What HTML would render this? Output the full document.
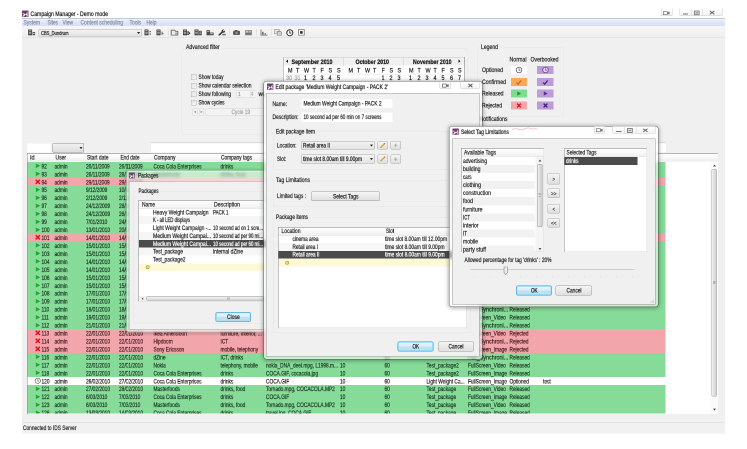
<!DOCTYPE html>
<html><head><meta charset="utf-8"><title>Campaign Manager</title>
<style>
html,body{margin:0;padding:0;background:#fff;overflow:hidden;}
body{width:747px;height:449px;position:relative;overflow:hidden;font-family:"Liberation Sans",sans-serif;}
div,span,svg{position:absolute;}
span{white-space:nowrap;transform-origin:0 50%;display:block;-webkit-text-stroke:0.22px;}
</style></head><body>
<div id="root" style="left:0;top:0;width:1494px;height:898px;transform:scale(.5);transform-origin:0 0;will-change:transform"><div style="left:0;top:0;width:747px;height:449px;zoom:2">
<div style="left:22.00px;top:8.00px;width:703.00px;height:425.50px;background:#f0f0f0;"></div>
<div style="left:22.00px;top:8.00px;width:703.00px;height:10.70px;background:#ffffff;"></div>
<svg style="left:22.1px;top:10.7px" width="6.5" height="6.5" viewBox="0 0 14 14"><rect width="14" height="14" rx="1" fill="#6a4068"/><path d="M1 13 L5.5 6.5 L8 8.5 L12.5 1.5 L10.4 10.4 L7.6 8.8 L4 13Z" fill="#ffffff"/><path d="M8.4 13 L13 5.4 V13Z" fill="#dba0cc"/><rect x="1.2" y="5" width="3" height="3" fill="#e7a9d3"/></svg>
<span style="left:30.50px;top:10.05px;font-size:6.2px;line-height:8.31px;color:#1e1e1e;transform:scaleX(0.827);">Campaign Manager - Demo mode</span>
<div style="left:660.80px;top:8.60px;width:11.80px;height:7.40px;border:0.5px solid #cdcdcd;border-top:none;border-radius:0 0 1.5px 1.5px;background:linear-gradient(#ffffff,#f4f4f4);box-sizing:border-box;"></div>
<svg style="left:663.2px;top:10.8px" width="7" height="4.2" viewBox="0 0 18 10"><rect x="1" y="1" width="10" height="8" fill="none" stroke="#6a6a6a" stroke-width="1.6"/><path d="M12 3 L17 1 L17 9 L12 7Z" fill="#777"/></svg>
<div style="left:679.50px;top:8.60px;width:43.00px;height:7.40px;border:0.5px solid #cdcdcd;border-top:none;border-radius:0 0 1.5px 1.5px;background:linear-gradient(#ffffff,#f4f4f4);box-sizing:border-box;"></div>
<div style="left:691.60px;top:9.00px;width:0.50px;height:6.60px;background:#d0d0d0;"></div>
<div style="left:702.70px;top:9.00px;width:0.50px;height:6.60px;background:#d0d0d0;"></div>
<div style="left:683.20px;top:13.60px;width:5.00px;height:1.00px;background:#777;"></div>
<svg style="left:694px;top:10.6px" width="5.6" height="4.8" viewBox="0 0 12 10"><rect x="1" y="1" width="10" height="8" fill="none" stroke="#6a6a6a" stroke-width="1.7"/><rect x="3" y="3.6" width="6" height="2.8" fill="#8a8a8a"/></svg>
<svg style="left:709.2px;top:10.6px" width="6.2" height="4.2" viewBox="0 0 14 10"><path d="M1.5 1 L12.5 9 M12.5 1 L1.5 9" stroke="#5e5e5e" stroke-width="2.3"/></svg>
<div style="left:22.00px;top:18.10px;width:703.00px;height:0.60px;background:#9aa0ac;"></div>
<div style="left:22.00px;top:18.70px;width:703.00px;height:7.80px;background:linear-gradient(#f1f4fb 0,#e9eef9 25%,#dfe6f6 45%,#dbe3f5 80%,#d4ddf2 100%);"></div>
<span style="left:23.60px;top:18.28px;font-size:6px;line-height:8.04px;color:#858ea8;transform:scaleX(0.825);">System</span>
<span style="left:47.40px;top:18.28px;font-size:6px;line-height:8.04px;color:#858ea8;transform:scaleX(0.787);">Sites</span>
<span style="left:62.70px;top:18.28px;font-size:6px;line-height:8.04px;color:#858ea8;transform:scaleX(0.814);">View</span>
<span style="left:80.50px;top:18.28px;font-size:6px;line-height:8.04px;color:#858ea8;transform:scaleX(0.827);">Content scheduling</span>
<span style="left:129.70px;top:18.28px;font-size:6px;line-height:8.04px;color:#858ea8;transform:scaleX(0.821);">Tools</span>
<span style="left:146.40px;top:18.28px;font-size:6px;line-height:8.04px;color:#858ea8;transform:scaleX(0.810);">Help</span>
<div style="left:22.00px;top:26.20px;width:703.00px;height:11.30px;background:linear-gradient(#f7f7f7,#efefef);"></div>
<div style="left:22.00px;top:37.30px;width:703.00px;height:0.60px;background:#d9d9d9;"></div>
<svg style="left:27.4px;top:28.9px" width="8.2" height="6.8" viewBox="0 0 16 13.6"><rect x="1" y="1" width="8" height="11.6" fill="#3f3f3f"/><rect x="2.4" y="2.8" width="5.2" height="1.5" fill="#cfcfcf"/><rect x="2.4" y="5.8" width="5.2" height="1.5" fill="#cfcfcf"/><rect x="2.4" y="8.8" width="5.2" height="1.5" fill="#bdbdbd"/><rect x="10" y="6" width="5" height="6.6" fill="#5a5a5a"/><rect x="11" y="8" width="3" height="1.6" fill="#e0e0e0"/></svg>
<div style="left:38.60px;top:29.00px;width:103.20px;height:7.60px;background:linear-gradient(#f4f4f4,#e4e4e4);border:0.5px solid #b0b0b0;border-radius:1px;box-sizing:border-box;"></div>
<span style="left:40.80px;top:29.11px;font-size:5.8px;line-height:7.77px;color:#222;transform:scaleX(0.705);">CBS_Dundrum</span>
<svg style="left:137.2px;top:32px" width="3.2" height="2" viewBox="0 0 8 5"><path d="M0 0 H8 L4 5Z" fill="#222"/></svg>
<svg style="left:144px;top:28.9px" width="8" height="6.8" viewBox="0 0 16 13.6"><rect x="1" y="1" width="8" height="11.6" fill="#3f3f3f"/><rect x="2.4" y="2.8" width="5.2" height="1.5" fill="#cfcfcf"/><rect x="2.4" y="5.8" width="5.2" height="1.5" fill="#cfcfcf"/><rect x="2.4" y="8.8" width="5.2" height="1.5" fill="#bdbdbd"/><rect x="11" y="4" width="2.4" height="2.4" fill="#444"/><rect x="11" y="9" width="2.4" height="2.4" fill="#444"/></svg>
<svg style="left:156px;top:28.9px" width="8" height="6.8" viewBox="0 0 16 13.6"><rect x="1" y="1" width="8" height="11.6" fill="#3f3f3f"/><rect x="2.4" y="2.8" width="5.2" height="1.5" fill="#cfcfcf"/><rect x="2.4" y="5.8" width="5.2" height="1.5" fill="#cfcfcf"/><rect x="2.4" y="8.8" width="5.2" height="1.5" fill="#bdbdbd"/><rect x="9.6" y="5" width="4" height="7" fill="#b8b8b8"/><path d="M12 6.5 L16 9 L12 11.5Z" fill="#777"/></svg>
<div style="left:168.30px;top:28.50px;width:0.50px;height:7.00px;background:#d6d6d6;"></div>
<svg style="left:170.6px;top:28.9px" width="8" height="6.8" viewBox="0 0 16 13.6"><path d="M1.4 2.4 H8.5 L10 4.6 H14.6 V12.4 H1.4Z" fill="#ededed" stroke="#6a6a6a" stroke-width="1.9"/><rect x="9" y="7" width="5" height="4.5" fill="#a9a9a9"/></svg>
<svg style="left:182.4px;top:28.9px" width="8" height="6.8" viewBox="0 0 16 13.6"><rect x="1" y="1" width="8" height="11.6" fill="#3f3f3f"/><rect x="2.4" y="2.8" width="5.2" height="1.5" fill="#cfcfcf"/><rect x="2.4" y="5.8" width="5.2" height="1.5" fill="#cfcfcf"/><rect x="2.4" y="8.8" width="5.2" height="1.5" fill="#bdbdbd"/><path d="M9.5 4.5 H12 L16 8.2 L12 12 H9.5Z" fill="#3f3f3f"/><rect x="10" y="7.4" width="3" height="1.5" fill="#ccc"/></svg>
<svg style="left:194px;top:28.9px" width="8" height="6.8" viewBox="0 0 16 13.6"><rect x="1" y="1" width="8" height="11.6" fill="#3f3f3f"/><rect x="2.4" y="2.8" width="5.2" height="1.5" fill="#cfcfcf"/><rect x="2.4" y="5.8" width="5.2" height="1.5" fill="#cfcfcf"/><rect x="2.4" y="8.8" width="5.2" height="1.5" fill="#bdbdbd"/><rect x="9.6" y="3.6" width="6" height="9" fill="#4c4c4c"/><rect x="10.8" y="5.4" width="3.6" height="1.4" fill="#cfcfcf"/><rect x="10.8" y="8.4" width="3.6" height="1.4" fill="#bdbdbd"/></svg>
<svg style="left:206px;top:28.9px" width="8" height="6.8" viewBox="0 0 16 13.6"><rect x="1" y="2.4" width="7" height="10.2" fill="#4a4a4a"/><rect x="2.2" y="4.2" width="4.6" height="1.5" fill="#cfcfcf"/><rect x="7" y="7" width="8.4" height="5.6" fill="#5a5a5a"/><rect x="8.4" y="8.6" width="5.6" height="1.4" fill="#c9c9c9"/></svg>
<svg style="left:217.8px;top:28.9px" width="8" height="6.8" viewBox="0 0 16 13.6"><path d="M2.4 12 L10 4.6" stroke="#3a3a3a" stroke-width="3.2" stroke-linecap="round"/><circle cx="10.6" cy="4.2" r="3.3" fill="#3a3a3a"/><path d="M10.6 4.2 L14.5 0.5" stroke="#efefef" stroke-width="2"/><rect x="8.6" y="9.6" width="6.8" height="3.2" fill="#707070"/></svg>
<div style="left:229.00px;top:28.50px;width:0.50px;height:7.00px;background:#d6d6d6;"></div>
<svg style="left:232.5px;top:28.9px" width="8" height="6.8" viewBox="0 0 16 13.6"><rect x="1" y="3.6" width="14" height="8.4" rx="2.2" fill="#5a5a5a"/><circle cx="8" cy="7.8" r="2.6" fill="#8d8d8d"/><rect x="4.4" y="2" width="5.4" height="2.2" fill="#5a5a5a"/></svg>
<svg style="left:244.5px;top:28.9px" width="8" height="6.8" viewBox="0 0 16 13.6"><rect x="1" y="2" width="14" height="10.6" fill="#8f8f8f"/><rect x="2.4" y="3.4" width="4.6" height="3.4" fill="#c9c9c9"/><rect x="8.4" y="3.4" width="5" height="3.4" fill="#b5b5b5"/><rect x="2.4" y="8.2" width="11" height="3" fill="#6f6f6f"/></svg>
<div style="left:255.80px;top:28.50px;width:0.50px;height:7.00px;background:#d6d6d6;"></div>
<svg style="left:260px;top:28.9px" width="8" height="6.8" viewBox="0 0 16 13.6"><path d="M2 1 V12.4 H15" fill="none" stroke="#6a6a6a" stroke-width="1.6"/><rect x="4" y="5.6" width="3.2" height="5.8" fill="#6f6f6f"/><rect x="8.8" y="8" width="3.2" height="3.4" fill="#8f8f8f"/></svg>
<div style="left:271.00px;top:28.50px;width:0.50px;height:7.00px;background:#d6d6d6;"></div>
<svg style="left:274px;top:28.9px" width="8" height="6.8" viewBox="0 0 16 13.6"><rect x="1" y="1" width="9.6" height="8.4" fill="#e6e6e6" stroke="#999" stroke-width="1.3"/><path d="M6.4 5 H13.6 L15.2 8 V12.6 H6.4Z" fill="#d0d0d0" stroke="#858585" stroke-width="1.3"/></svg>
<svg style="left:286.2px;top:28.799999999999997px" width="7.6" height="7.6" viewBox="0 0 15 15"><circle cx="7.5" cy="7.5" r="6" fill="#fff" stroke="#333" stroke-width="2"/><path d="M7.5 3.8 V8 H10.8" fill="none" stroke="#333" stroke-width="1.7"/></svg>
<svg style="left:298px;top:28.799999999999997px" width="6.8" height="6.8" viewBox="0 0 13 13"><rect x="1" y="1" width="11" height="11" fill="#f4f4f4" stroke="#777" stroke-width="1.4"/><rect x="4" y="4" width="5" height="5" fill="#333"/></svg>
<div style="left:181.50px;top:48.50px;width:286.00px;height:86.00px;border:0.5px solid #e7e7e7;border-radius:2px;box-sizing:border-box;"></div>
<div style="left:184.50px;top:44.00px;width:37.00px;height:7.00px;background:#f0f0f0;"></div>
<span style="left:186.00px;top:42.98px;font-size:6px;line-height:8.04px;color:#2a2a2a;transform:scaleX(0.847);">Advanced filter</span>
<div style="left:191.10px;top:74.20px;width:5.60px;height:5.60px;background:linear-gradient(135deg,#e2e2e2,#f6f6f6);border:0.5px solid #b9b9b9;box-sizing:border-box;"></div>
<span style="left:198.30px;top:72.98px;font-size:6px;line-height:8.04px;color:#2a2a2a;transform:scaleX(0.797);">Show today</span>
<div style="left:191.10px;top:82.80px;width:5.60px;height:5.60px;background:linear-gradient(135deg,#e2e2e2,#f6f6f6);border:0.5px solid #b9b9b9;box-sizing:border-box;"></div>
<span style="left:198.30px;top:81.58px;font-size:6px;line-height:8.04px;color:#2a2a2a;transform:scaleX(0.815);">Show calendar selection</span>
<div style="left:191.10px;top:91.30px;width:5.60px;height:5.60px;background:linear-gradient(135deg,#e2e2e2,#f6f6f6);border:0.5px solid #b9b9b9;box-sizing:border-box;"></div>
<span style="left:198.30px;top:90.08px;font-size:6px;line-height:8.04px;color:#2a2a2a;transform:scaleX(0.812);">Show following</span>
<div style="left:191.10px;top:99.80px;width:5.60px;height:5.60px;background:linear-gradient(135deg,#e2e2e2,#f6f6f6);border:0.5px solid #b9b9b9;box-sizing:border-box;"></div>
<span style="left:198.30px;top:98.58px;font-size:6px;line-height:8.04px;color:#2a2a2a;transform:scaleX(0.780);">Show cycles</span>
<div style="left:236.00px;top:90.30px;width:19.00px;height:7.40px;background:#f4f4f4;border:0.5px solid #d6d6d6;box-sizing:border-box;"></div>
<span style="left:238.20px;top:90.21px;font-size:5.8px;line-height:7.77px;color:#9a9a9a;transform:scaleX(0.840);">1</span>
<div style="left:250.00px;top:91.00px;width:4.40px;height:6.00px;border-left:0.5px solid #d0d0d0;"></div>
<svg style="left:251px;top:91.7px" width="2.6" height="4.6" viewBox="0 0 6 10"><path d="M0 4 L3 0 L6 4Z M0 6 L3 10 L6 6Z" fill="#a8a8a8"/></svg>
<span style="left:258.60px;top:90.08px;font-size:6px;line-height:8.04px;color:#2a2a2a;transform:scaleX(0.882);">weeks</span>
<div style="left:192.60px;top:108.40px;width:5.20px;height:7.40px;background:#f3f3f3;border:0.5px solid #d6d6d6;box-sizing:border-box;border-radius:1px;"></div>
<div style="left:198.80px;top:108.40px;width:5.20px;height:7.40px;background:#f3f3f3;border:0.5px solid #d6d6d6;box-sizing:border-box;border-radius:1px;"></div>
<svg style="left:194px;top:110.7px" width="2" height="2.8" viewBox="0 0 4 6"><path d="M4 0 L0 3 L4 6Z" fill="#9a9a9a"/></svg>
<svg style="left:200.3px;top:110.7px" width="2" height="2.8" viewBox="0 0 4 6"><path d="M0 0 L4 3 L0 6Z" fill="#9a9a9a"/></svg>
<div style="left:205.40px;top:108.40px;width:72.00px;height:7.40px;background:#f3f3f3;border:0.5px solid #d6d6d6;box-sizing:border-box;border-radius:1px;"></div>
<span style="left:231.30px;top:108.18px;font-size:6px;line-height:8.04px;color:#a9a9a9;transform:scaleX(0.793);">Cycle 19</span>
<div style="left:283.50px;top:57.00px;width:181.50px;height:40.00px;background:#fff;"></div>
<div style="left:283.50px;top:57.00px;width:181.50px;height:8.60px;background:#f0f0f0;border-top:0.5px solid #c9c9c9;box-sizing:border-box;"></div>
<div style="left:283.50px;top:57.00px;width:0.50px;height:40.00px;background:#9d9d9d;"></div>
<div style="left:464.50px;top:57.00px;width:0.60px;height:40.00px;background:#6e6e6e;"></div>
<div style="left:343.60px;top:57.00px;width:0.50px;height:9.00px;background:#cfcfcf;"></div>
<div style="left:403.60px;top:57.00px;width:0.50px;height:9.00px;background:#cfcfcf;"></div>
<svg style="left:286.2px;top:59.6px" width="2" height="3.4" viewBox="0 0 4 7"><path d="M4 0 L0 3.5 L4 7Z" fill="#111"/></svg>
<svg style="left:458.6px;top:59.6px" width="2" height="3.4" viewBox="0 0 4 7"><path d="M0 0 L4 3.5 L0 7Z" fill="#111"/></svg>
<span style="left:291.50px;top:57.98px;font-size:6px;line-height:8.04px;color:#1c1c1c;font-weight:bold;transform:scaleX(0.891);">September 2010</span>
<span style="left:355.50px;top:57.98px;font-size:6px;line-height:8.04px;color:#1c1c1c;font-weight:bold;transform:scaleX(0.881);">October 2010</span>
<span style="left:413.20px;top:57.98px;font-size:6px;line-height:8.04px;color:#1c1c1c;font-weight:bold;transform:scaleX(0.868);">November 2010</span>
<span style="left:287.90px;top:66.58px;font-size:6px;line-height:8.04px;color:#222;transform:scaleX(0.900);">M</span>
<span style="left:296.05px;top:66.58px;font-size:6px;line-height:8.04px;color:#222;transform:scaleX(0.900);">T</span>
<span style="left:304.20px;top:66.58px;font-size:6px;line-height:8.04px;color:#222;transform:scaleX(0.900);">W</span>
<span style="left:312.35px;top:66.58px;font-size:6px;line-height:8.04px;color:#222;transform:scaleX(0.900);">T</span>
<span style="left:320.50px;top:66.58px;font-size:6px;line-height:8.04px;color:#222;transform:scaleX(0.900);">F</span>
<span style="left:328.65px;top:66.58px;font-size:6px;line-height:8.04px;color:#222;transform:scaleX(0.900);">S</span>
<span style="left:336.80px;top:66.58px;font-size:6px;line-height:8.04px;color:#222;transform:scaleX(0.900);">S</span>
<div style="left:286.10px;top:74.00px;width:54.00px;height:0.40px;background:#e2e2e2;"></div>
<span style="left:348.70px;top:66.58px;font-size:6px;line-height:8.04px;color:#222;transform:scaleX(0.900);">M</span>
<span style="left:356.85px;top:66.58px;font-size:6px;line-height:8.04px;color:#222;transform:scaleX(0.900);">T</span>
<span style="left:365.00px;top:66.58px;font-size:6px;line-height:8.04px;color:#222;transform:scaleX(0.900);">W</span>
<span style="left:373.15px;top:66.58px;font-size:6px;line-height:8.04px;color:#222;transform:scaleX(0.900);">T</span>
<span style="left:381.30px;top:66.58px;font-size:6px;line-height:8.04px;color:#222;transform:scaleX(0.900);">F</span>
<span style="left:389.45px;top:66.58px;font-size:6px;line-height:8.04px;color:#222;transform:scaleX(0.900);">S</span>
<span style="left:397.60px;top:66.58px;font-size:6px;line-height:8.04px;color:#222;transform:scaleX(0.900);">S</span>
<div style="left:346.90px;top:74.00px;width:54.00px;height:0.40px;background:#e2e2e2;"></div>
<span style="left:409.10px;top:66.58px;font-size:6px;line-height:8.04px;color:#222;transform:scaleX(0.900);">M</span>
<span style="left:417.25px;top:66.58px;font-size:6px;line-height:8.04px;color:#222;transform:scaleX(0.900);">T</span>
<span style="left:425.40px;top:66.58px;font-size:6px;line-height:8.04px;color:#222;transform:scaleX(0.900);">W</span>
<span style="left:433.55px;top:66.58px;font-size:6px;line-height:8.04px;color:#222;transform:scaleX(0.900);">T</span>
<span style="left:441.70px;top:66.58px;font-size:6px;line-height:8.04px;color:#222;transform:scaleX(0.900);">F</span>
<span style="left:449.85px;top:66.58px;font-size:6px;line-height:8.04px;color:#222;transform:scaleX(0.900);">S</span>
<span style="left:458.00px;top:66.58px;font-size:6px;line-height:8.04px;color:#222;transform:scaleX(0.900);">S</span>
<div style="left:407.30px;top:74.00px;width:54.00px;height:0.40px;background:#e2e2e2;"></div>
<span style="left:286.20px;top:73.98px;font-size:6px;line-height:8.04px;color:#aaa;transform:scaleX(0.900);">30</span>
<span style="left:294.35px;top:73.98px;font-size:6px;line-height:8.04px;color:#aaa;transform:scaleX(0.900);">31</span>
<span style="left:304.20px;top:73.98px;font-size:6px;line-height:8.04px;color:#222;transform:scaleX(0.900);">1</span>
<span style="left:312.35px;top:73.98px;font-size:6px;line-height:8.04px;color:#222;transform:scaleX(0.900);">2</span>
<span style="left:320.50px;top:73.98px;font-size:6px;line-height:8.04px;color:#222;transform:scaleX(0.900);">3</span>
<span style="left:328.65px;top:73.98px;font-size:6px;line-height:8.04px;color:#222;transform:scaleX(0.900);">4</span>
<span style="left:336.80px;top:73.98px;font-size:6px;line-height:8.04px;color:#222;transform:scaleX(0.900);">5</span>
<span style="left:381.30px;top:73.98px;font-size:6px;line-height:8.04px;color:#222;transform:scaleX(0.900);">1</span>
<span style="left:389.45px;top:73.98px;font-size:6px;line-height:8.04px;color:#222;transform:scaleX(0.900);">2</span>
<span style="left:397.60px;top:73.98px;font-size:6px;line-height:8.04px;color:#222;transform:scaleX(0.900);">3</span>
<span style="left:409.10px;top:73.98px;font-size:6px;line-height:8.04px;color:#222;transform:scaleX(0.900);">1</span>
<span style="left:417.25px;top:73.98px;font-size:6px;line-height:8.04px;color:#222;transform:scaleX(0.900);">2</span>
<span style="left:425.40px;top:73.98px;font-size:6px;line-height:8.04px;color:#222;transform:scaleX(0.900);">3</span>
<span style="left:433.55px;top:73.98px;font-size:6px;line-height:8.04px;color:#222;transform:scaleX(0.900);">4</span>
<span style="left:441.70px;top:73.98px;font-size:6px;line-height:8.04px;color:#222;transform:scaleX(0.900);">5</span>
<span style="left:449.85px;top:73.98px;font-size:6px;line-height:8.04px;color:#222;transform:scaleX(0.900);">6</span>
<span style="left:458.00px;top:73.98px;font-size:6px;line-height:8.04px;color:#222;transform:scaleX(0.900);">7</span>
<div style="left:477.00px;top:47.50px;width:87.00px;height:69.50px;border:0.5px solid #e7e7e7;border-radius:2px;box-sizing:border-box;"></div>
<div style="left:479.50px;top:43.50px;width:21.00px;height:7.00px;background:#f0f0f0;"></div>
<span style="left:480.80px;top:42.98px;font-size:6px;line-height:8.04px;color:#2a2a2a;transform:scaleX(0.849);">Legend</span>
<span style="left:509.50px;top:55.58px;font-size:6px;line-height:8.04px;color:#2a2a2a;transform:scaleX(0.879);">Normal</span>
<span style="left:530.50px;top:55.58px;font-size:6px;line-height:8.04px;color:#2a2a2a;transform:scaleX(0.857);">Overbooked</span>
<span style="left:482.00px;top:65.98px;font-size:6px;line-height:8.04px;color:#2a2a2a;transform:scaleX(0.862);">Optioned</span>
<div style="left:511.00px;top:66.00px;width:16.00px;height:8.00px;background:#ffffff;"></div>
<div style="left:537.00px;top:66.00px;width:16.60px;height:8.00px;background:#bd9dd8;"></div>
<span style="left:482.00px;top:77.98px;font-size:6px;line-height:8.04px;color:#2a2a2a;transform:scaleX(0.867);">Confirmed</span>
<div style="left:511.00px;top:78.00px;width:16.00px;height:8.00px;background:#f9a857;"></div>
<div style="left:537.00px;top:78.00px;width:16.60px;height:8.00px;background:#bd9dd8;"></div>
<span style="left:482.00px;top:89.58px;font-size:6px;line-height:8.04px;color:#2a2a2a;transform:scaleX(0.848);">Released</span>
<div style="left:511.00px;top:89.60px;width:16.00px;height:8.00px;background:#7ddc8f;"></div>
<div style="left:537.00px;top:89.60px;width:16.60px;height:8.00px;background:#bd9dd8;"></div>
<span style="left:482.00px;top:101.38px;font-size:6px;line-height:8.04px;color:#2a2a2a;transform:scaleX(0.845);">Rejected</span>
<div style="left:511.00px;top:101.40px;width:16.00px;height:8.00px;background:#f4a6ad;"></div>
<div style="left:537.00px;top:101.40px;width:16.60px;height:8.00px;background:#bd9dd8;"></div>
<svg style="left:515.4px;top:66.5px" width="7" height="7" viewBox="0 0 10 10"><circle cx="5" cy="5" r="4" fill="#fff" fill-opacity=".6" stroke="#555" stroke-width="1.1"/><path d="M5 2.6 V5.2 H7" fill="none" stroke="#555" stroke-width="1"/></svg>
<svg style="left:541.8px;top:66.5px" width="7" height="7" viewBox="0 0 10 10"><circle cx="5" cy="5" r="4" fill="#fff" fill-opacity=".6" stroke="#6a3f8a" stroke-width="1.1"/><path d="M5 2.6 V5.2 H7" fill="none" stroke="#6a3f8a" stroke-width="1"/></svg>
<svg style="left:516.2px;top:79.3px" width="5.5" height="5.5" viewBox="0 0 10 10"><path d="M1 5.5 L4 8.5 L9.3 1.8" fill="none" stroke="#d4661a" stroke-width="2.3"/></svg>
<svg style="left:542.5px;top:79.3px" width="5.5" height="5.5" viewBox="0 0 10 10"><path d="M1 5.5 L4 8.5 L9.3 1.8" fill="none" stroke="#46207a" stroke-width="2.3"/></svg>
<svg style="left:516.7px;top:91.1px" width="5" height="5" viewBox="0 0 10 10"><path d="M1.5 0.8 L9.3 5 L1.5 9.2Z" fill="#1f9a2a"/></svg>
<svg style="left:543px;top:91.1px" width="5" height="5" viewBox="0 0 10 10"><path d="M1.5 0.8 L9.3 5 L1.5 9.2Z" fill="#5a2a9a"/></svg>
<svg style="left:516.5px;top:102.9px" width="5" height="5" viewBox="0 0 10 10"><path d="M1.3 1.3 L8.7 8.7 M8.7 1.3 L1.3 8.7" fill="none" stroke="#d8141c" stroke-width="2.7"/></svg>
<svg style="left:542.8px;top:102.9px" width="5" height="5" viewBox="0 0 10 10"><path d="M1.3 1.3 L8.7 8.7 M8.7 1.3 L1.3 8.7" fill="none" stroke="#46207a" stroke-width="2.7"/></svg>
<span style="left:479.50px;top:115.18px;font-size:6px;line-height:8.04px;color:#2a2a2a;transform:scaleX(0.857);">Notifications</span>
<div style="left:151.00px;top:142.40px;width:514.50px;height:0.60px;background:#c9c9c9;"></div>
<div style="left:26.80px;top:143.00px;width:691.20px;height:10.30px;background:#f0f0f0;"></div>
<div style="left:26.80px;top:143.40px;width:24.20px;height:9.00px;background:#fff;"></div>
<div style="left:52.70px;top:143.20px;width:31.50px;height:9.40px;background:linear-gradient(#f2f2f2,#dedede);border:0.5px solid #8e8e8e;border-radius:1px;box-sizing:border-box;"></div>
<svg style="left:79.3px;top:147.2px" width="3" height="2" viewBox="0 0 8 5"><path d="M0 0 H8 L4 5Z" fill="#111"/></svg>
<div style="left:151.00px;top:143.40px;width:514.80px;height:9.00px;background:#fff;"></div>
<div style="left:26.80px;top:153.00px;width:691.20px;height:8.70px;background:linear-gradient(#ffffff,#fbfbfb 45%,#ececec);border-top:0.7px solid #6e6e6e;box-sizing:border-box;"></div>
<div style="left:26.80px;top:153.30px;width:0.60px;height:261.00px;background:#8a8a8a;"></div>
<span style="left:30.00px;top:153.58px;font-size:6px;line-height:8.04px;color:#2a2a2a;transform:scaleX(0.919);">Id</span>
<span style="left:55.40px;top:153.58px;font-size:6px;line-height:8.04px;color:#2a2a2a;transform:scaleX(0.829);">User</span>
<span style="left:86.80px;top:153.58px;font-size:6px;line-height:8.04px;color:#2a2a2a;transform:scaleX(0.826);">Start date</span>
<span style="left:120.60px;top:153.58px;font-size:6px;line-height:8.04px;color:#2a2a2a;transform:scaleX(0.791);">End date</span>
<span style="left:153.80px;top:153.58px;font-size:6px;line-height:8.04px;color:#2a2a2a;transform:scaleX(0.837);">Company</span>
<span style="left:220.80px;top:153.58px;font-size:6px;line-height:8.04px;color:#2a2a2a;transform:scaleX(0.801);">Company tags</span>
<div style="left:27.40px;top:161.60px;width:690.60px;height:252.40px;background:#fff;"></div>
<div style="left:27.400000000000002px;top:162.0px;width:690.6px;height:251.60000000000002px;overflow:hidden">
<div style="left:0;top:0.00px;width:638.10px;height:8.01px;background:#86db98"></div>
<div style="left:0;top:7.96px;width:638.10px;height:8.01px;background:#86db98"></div>
<div style="left:0;top:15.92px;width:638.10px;height:8.01px;background:#f3a5ac"></div>
<div style="left:0;top:23.88px;width:638.10px;height:8.01px;background:#86db98"></div>
<div style="left:0;top:31.84px;width:638.10px;height:8.01px;background:#86db98"></div>
<div style="left:0;top:39.80px;width:638.10px;height:8.01px;background:#86db98"></div>
<div style="left:0;top:47.76px;width:638.10px;height:8.01px;background:#86db98"></div>
<div style="left:0;top:55.72px;width:638.10px;height:8.01px;background:#86db98"></div>
<div style="left:0;top:63.68px;width:638.10px;height:8.01px;background:#86db98"></div>
<div style="left:0;top:71.64px;width:638.10px;height:8.01px;background:#f3a5ac"></div>
<div style="left:0;top:79.60px;width:638.10px;height:8.01px;background:#86db98"></div>
<div style="left:0;top:87.56px;width:638.10px;height:8.01px;background:#86db98"></div>
<div style="left:0;top:95.52px;width:638.10px;height:8.01px;background:#86db98"></div>
<div style="left:0;top:103.48px;width:638.10px;height:8.01px;background:#86db98"></div>
<div style="left:0;top:111.44px;width:638.10px;height:8.01px;background:#86db98"></div>
<div style="left:0;top:119.40px;width:638.10px;height:8.01px;background:#86db98"></div>
<div style="left:0;top:127.36px;width:638.10px;height:8.01px;background:#86db98"></div>
<div style="left:0;top:135.32px;width:638.10px;height:8.01px;background:#86db98"></div>
<div style="left:0;top:143.28px;width:638.10px;height:8.01px;background:#86db98"></div>
<div style="left:0;top:151.24px;width:638.10px;height:8.01px;background:#86db98"></div>
<div style="left:0;top:159.20px;width:638.10px;height:8.01px;background:#86db98"></div>
<div style="left:0;top:167.16px;width:638.10px;height:8.01px;background:#f3a5ac"></div>
<div style="left:0;top:175.12px;width:638.10px;height:8.01px;background:#f3a5ac"></div>
<div style="left:0;top:183.08px;width:638.10px;height:8.01px;background:#f3a5ac"></div>
<div style="left:0;top:191.04px;width:638.10px;height:8.01px;background:#86db98"></div>
<div style="left:0;top:199.00px;width:638.10px;height:8.01px;background:#86db98"></div>
<div style="left:0;top:206.96px;width:638.10px;height:8.01px;background:#86db98"></div>
<div style="left:0;top:214.92px;width:638.10px;height:8.01px;background:#ffffff"></div>
<div style="left:0;top:222.88px;width:638.10px;height:8.01px;background:#86db98"></div>
<div style="left:0;top:230.84px;width:638.10px;height:8.01px;background:#86db98"></div>
<div style="left:0;top:238.80px;width:638.10px;height:8.01px;background:#86db98"></div>
<div style="left:0;top:246.76px;width:638.10px;height:8.01px;background:#86db98"></div>
<svg style="left:7.800000000000001px;top:1.08px" width="5.6" height="5.6" viewBox="0 0 10 10"><path d="M1.5 0.8 L9.3 5 L1.5 9.2Z" fill="#22a82e"/></svg>
<span style="left:14.20px;top:0.36px;font-size:6px;line-height:8.04px;color:#1d3d27;transform:scaleX(0.800);">92</span>
<span style="left:27.20px;top:0.36px;font-size:6px;line-height:8.04px;color:#1d3d27;transform:scaleX(0.800);">admin</span>
<span style="left:58.80px;top:0.36px;font-size:6px;line-height:8.04px;color:#1d3d27;transform:scaleX(0.800);">26/11/2009</span>
<span style="left:91.80px;top:0.36px;font-size:6px;line-height:8.04px;color:#1d3d27;transform:scaleX(0.800);">26/11/2009</span>
<span style="left:126.00px;top:0.36px;font-size:6px;line-height:8.04px;color:#1d3d27;transform:scaleX(0.800);">Coca Cola Enterprises</span>
<span style="left:192.90px;top:0.36px;font-size:6px;line-height:8.04px;color:#1d3d27;transform:scaleX(0.800);">drinks</span>
<svg style="left:7.800000000000001px;top:9.04px" width="5.6" height="5.6" viewBox="0 0 10 10"><path d="M1.5 0.8 L9.3 5 L1.5 9.2Z" fill="#22a82e"/></svg>
<span style="left:14.20px;top:8.32px;font-size:6px;line-height:8.04px;color:#1d3d27;transform:scaleX(0.800);">93</span>
<span style="left:27.20px;top:8.32px;font-size:6px;line-height:8.04px;color:#1d3d27;transform:scaleX(0.800);">admin</span>
<span style="left:58.80px;top:8.32px;font-size:6px;line-height:8.04px;color:#1d3d27;transform:scaleX(0.800);">26/11/2009</span>
<span style="left:91.80px;top:8.32px;font-size:6px;line-height:8.04px;color:#1d3d27;transform:scaleX(0.800);">28/11/2009</span>
<span style="left:126.00px;top:8.32px;font-size:6px;line-height:8.04px;color:#1d3d27;transform:scaleX(0.800);">Masterfoods</span>
<span style="left:192.90px;top:8.32px;font-size:6px;line-height:8.04px;color:#1d3d27;transform:scaleX(0.800);">drinks, food</span>
<svg style="left:7.599999999999998px;top:17.0px" width="5.6" height="5.6" viewBox="0 0 10 10"><path d="M1.3 1.3 L8.7 8.7 M8.7 1.3 L1.3 8.7" fill="none" stroke="#dc1118" stroke-width="2.7"/></svg>
<span style="left:14.20px;top:16.28px;font-size:6px;line-height:8.04px;color:#4a1f24;transform:scaleX(0.800);">94</span>
<span style="left:27.20px;top:16.28px;font-size:6px;line-height:8.04px;color:#4a1f24;transform:scaleX(0.800);">admin</span>
<span style="left:58.80px;top:16.28px;font-size:6px;line-height:8.04px;color:#4a1f24;transform:scaleX(0.800);">29/11/2009</span>
<span style="left:91.80px;top:16.28px;font-size:6px;line-height:8.04px;color:#4a1f24;transform:scaleX(0.800);">29/11/2009</span>
<svg style="left:7.800000000000001px;top:24.96px" width="5.6" height="5.6" viewBox="0 0 10 10"><path d="M1.5 0.8 L9.3 5 L1.5 9.2Z" fill="#22a82e"/></svg>
<span style="left:14.20px;top:24.24px;font-size:6px;line-height:8.04px;color:#1d3d27;transform:scaleX(0.800);">95</span>
<span style="left:27.20px;top:24.24px;font-size:6px;line-height:8.04px;color:#1d3d27;transform:scaleX(0.800);">admin</span>
<span style="left:58.80px;top:24.24px;font-size:6px;line-height:8.04px;color:#1d3d27;transform:scaleX(0.800);">9/12/2009</span>
<span style="left:91.80px;top:24.24px;font-size:6px;line-height:8.04px;color:#1d3d27;transform:scaleX(0.800);">10/12/2009</span>
<svg style="left:7.800000000000001px;top:32.92px" width="5.6" height="5.6" viewBox="0 0 10 10"><path d="M1.5 0.8 L9.3 5 L1.5 9.2Z" fill="#22a82e"/></svg>
<span style="left:14.20px;top:32.20px;font-size:6px;line-height:8.04px;color:#1d3d27;transform:scaleX(0.800);">96</span>
<span style="left:27.20px;top:32.20px;font-size:6px;line-height:8.04px;color:#1d3d27;transform:scaleX(0.800);">admin</span>
<span style="left:58.80px;top:32.20px;font-size:6px;line-height:8.04px;color:#1d3d27;transform:scaleX(0.800);">2/12/2009</span>
<span style="left:91.80px;top:32.20px;font-size:6px;line-height:8.04px;color:#1d3d27;transform:scaleX(0.800);">2/12/2009</span>
<svg style="left:7.800000000000001px;top:40.879999999999995px" width="5.6" height="5.6" viewBox="0 0 10 10"><path d="M1.5 0.8 L9.3 5 L1.5 9.2Z" fill="#22a82e"/></svg>
<span style="left:14.20px;top:40.16px;font-size:6px;line-height:8.04px;color:#1d3d27;transform:scaleX(0.800);">97</span>
<span style="left:27.20px;top:40.16px;font-size:6px;line-height:8.04px;color:#1d3d27;transform:scaleX(0.800);">admin</span>
<span style="left:58.80px;top:40.16px;font-size:6px;line-height:8.04px;color:#1d3d27;transform:scaleX(0.800);">24/12/2009</span>
<span style="left:91.80px;top:40.16px;font-size:6px;line-height:8.04px;color:#1d3d27;transform:scaleX(0.800);">28/12/2009</span>
<svg style="left:7.800000000000001px;top:48.839999999999996px" width="5.6" height="5.6" viewBox="0 0 10 10"><path d="M1.5 0.8 L9.3 5 L1.5 9.2Z" fill="#22a82e"/></svg>
<span style="left:14.20px;top:48.12px;font-size:6px;line-height:8.04px;color:#1d3d27;transform:scaleX(0.800);">98</span>
<span style="left:27.20px;top:48.12px;font-size:6px;line-height:8.04px;color:#1d3d27;transform:scaleX(0.800);">admin</span>
<span style="left:58.80px;top:48.12px;font-size:6px;line-height:8.04px;color:#1d3d27;transform:scaleX(0.800);">24/12/2009</span>
<span style="left:91.80px;top:48.12px;font-size:6px;line-height:8.04px;color:#1d3d27;transform:scaleX(0.800);">26/12/2009</span>
<svg style="left:7.800000000000001px;top:56.8px" width="5.6" height="5.6" viewBox="0 0 10 10"><path d="M1.5 0.8 L9.3 5 L1.5 9.2Z" fill="#22a82e"/></svg>
<span style="left:14.20px;top:56.08px;font-size:6px;line-height:8.04px;color:#1d3d27;transform:scaleX(0.800);">99</span>
<span style="left:27.20px;top:56.08px;font-size:6px;line-height:8.04px;color:#1d3d27;transform:scaleX(0.800);">admin</span>
<span style="left:58.80px;top:56.08px;font-size:6px;line-height:8.04px;color:#1d3d27;transform:scaleX(0.800);">7/01/2010</span>
<span style="left:91.80px;top:56.08px;font-size:6px;line-height:8.04px;color:#1d3d27;transform:scaleX(0.800);">24/01/2010</span>
<svg style="left:7.800000000000001px;top:64.75999999999999px" width="5.6" height="5.6" viewBox="0 0 10 10"><path d="M1.5 0.8 L9.3 5 L1.5 9.2Z" fill="#22a82e"/></svg>
<span style="left:14.20px;top:64.04px;font-size:6px;line-height:8.04px;color:#1d3d27;transform:scaleX(0.800);">100</span>
<span style="left:27.20px;top:64.04px;font-size:6px;line-height:8.04px;color:#1d3d27;transform:scaleX(0.800);">admin</span>
<span style="left:58.80px;top:64.04px;font-size:6px;line-height:8.04px;color:#1d3d27;transform:scaleX(0.800);">13/01/2010</span>
<span style="left:91.80px;top:64.04px;font-size:6px;line-height:8.04px;color:#1d3d27;transform:scaleX(0.800);">20/01/2010</span>
<svg style="left:7.599999999999998px;top:72.72px" width="5.6" height="5.6" viewBox="0 0 10 10"><path d="M1.3 1.3 L8.7 8.7 M8.7 1.3 L1.3 8.7" fill="none" stroke="#dc1118" stroke-width="2.7"/></svg>
<span style="left:14.20px;top:72.00px;font-size:6px;line-height:8.04px;color:#4a1f24;transform:scaleX(0.800);">101</span>
<span style="left:27.20px;top:72.00px;font-size:6px;line-height:8.04px;color:#4a1f24;transform:scaleX(0.800);">admin</span>
<span style="left:58.80px;top:72.00px;font-size:6px;line-height:8.04px;color:#4a1f24;transform:scaleX(0.800);">14/01/2010</span>
<span style="left:91.80px;top:72.00px;font-size:6px;line-height:8.04px;color:#4a1f24;transform:scaleX(0.800);">14/01/2010</span>
<svg style="left:7.800000000000001px;top:80.67999999999999px" width="5.6" height="5.6" viewBox="0 0 10 10"><path d="M1.5 0.8 L9.3 5 L1.5 9.2Z" fill="#22a82e"/></svg>
<span style="left:14.20px;top:79.96px;font-size:6px;line-height:8.04px;color:#1d3d27;transform:scaleX(0.800);">102</span>
<span style="left:27.20px;top:79.96px;font-size:6px;line-height:8.04px;color:#1d3d27;transform:scaleX(0.800);">admin</span>
<span style="left:58.80px;top:79.96px;font-size:6px;line-height:8.04px;color:#1d3d27;transform:scaleX(0.800);">15/01/2010</span>
<span style="left:91.80px;top:79.96px;font-size:6px;line-height:8.04px;color:#1d3d27;transform:scaleX(0.800);">15/01/2010</span>
<svg style="left:7.800000000000001px;top:88.64px" width="5.6" height="5.6" viewBox="0 0 10 10"><path d="M1.5 0.8 L9.3 5 L1.5 9.2Z" fill="#22a82e"/></svg>
<span style="left:14.20px;top:87.92px;font-size:6px;line-height:8.04px;color:#1d3d27;transform:scaleX(0.800);">103</span>
<span style="left:27.20px;top:87.92px;font-size:6px;line-height:8.04px;color:#1d3d27;transform:scaleX(0.800);">admin</span>
<span style="left:58.80px;top:87.92px;font-size:6px;line-height:8.04px;color:#1d3d27;transform:scaleX(0.800);">15/01/2010</span>
<span style="left:91.80px;top:87.92px;font-size:6px;line-height:8.04px;color:#1d3d27;transform:scaleX(0.800);">15/01/2010</span>
<svg style="left:7.800000000000001px;top:96.6px" width="5.6" height="5.6" viewBox="0 0 10 10"><path d="M1.5 0.8 L9.3 5 L1.5 9.2Z" fill="#22a82e"/></svg>
<span style="left:14.20px;top:95.88px;font-size:6px;line-height:8.04px;color:#1d3d27;transform:scaleX(0.800);">104</span>
<span style="left:27.20px;top:95.88px;font-size:6px;line-height:8.04px;color:#1d3d27;transform:scaleX(0.800);">admin</span>
<span style="left:58.80px;top:95.88px;font-size:6px;line-height:8.04px;color:#1d3d27;transform:scaleX(0.800);">14/01/2010</span>
<span style="left:91.80px;top:95.88px;font-size:6px;line-height:8.04px;color:#1d3d27;transform:scaleX(0.800);">14/01/2010</span>
<svg style="left:7.800000000000001px;top:104.56px" width="5.6" height="5.6" viewBox="0 0 10 10"><path d="M1.5 0.8 L9.3 5 L1.5 9.2Z" fill="#22a82e"/></svg>
<span style="left:14.20px;top:103.84px;font-size:6px;line-height:8.04px;color:#1d3d27;transform:scaleX(0.800);">105</span>
<span style="left:27.20px;top:103.84px;font-size:6px;line-height:8.04px;color:#1d3d27;transform:scaleX(0.800);">admin</span>
<span style="left:58.80px;top:103.84px;font-size:6px;line-height:8.04px;color:#1d3d27;transform:scaleX(0.800);">14/01/2010</span>
<span style="left:91.80px;top:103.84px;font-size:6px;line-height:8.04px;color:#1d3d27;transform:scaleX(0.800);">14/01/2010</span>
<svg style="left:7.800000000000001px;top:112.52px" width="5.6" height="5.6" viewBox="0 0 10 10"><path d="M1.5 0.8 L9.3 5 L1.5 9.2Z" fill="#22a82e"/></svg>
<span style="left:14.20px;top:111.80px;font-size:6px;line-height:8.04px;color:#1d3d27;transform:scaleX(0.800);">106</span>
<span style="left:27.20px;top:111.80px;font-size:6px;line-height:8.04px;color:#1d3d27;transform:scaleX(0.800);">admin</span>
<span style="left:58.80px;top:111.80px;font-size:6px;line-height:8.04px;color:#1d3d27;transform:scaleX(0.800);">15/01/2010</span>
<span style="left:91.80px;top:111.80px;font-size:6px;line-height:8.04px;color:#1d3d27;transform:scaleX(0.800);">15/01/2010</span>
<svg style="left:7.800000000000001px;top:120.48px" width="5.6" height="5.6" viewBox="0 0 10 10"><path d="M1.5 0.8 L9.3 5 L1.5 9.2Z" fill="#22a82e"/></svg>
<span style="left:14.20px;top:119.76px;font-size:6px;line-height:8.04px;color:#1d3d27;transform:scaleX(0.800);">107</span>
<span style="left:27.20px;top:119.76px;font-size:6px;line-height:8.04px;color:#1d3d27;transform:scaleX(0.800);">admin</span>
<span style="left:58.80px;top:119.76px;font-size:6px;line-height:8.04px;color:#1d3d27;transform:scaleX(0.800);">15/01/2010</span>
<span style="left:91.80px;top:119.76px;font-size:6px;line-height:8.04px;color:#1d3d27;transform:scaleX(0.800);">15/01/2010</span>
<svg style="left:7.800000000000001px;top:128.44px" width="5.6" height="5.6" viewBox="0 0 10 10"><path d="M1.5 0.8 L9.3 5 L1.5 9.2Z" fill="#22a82e"/></svg>
<span style="left:14.20px;top:127.72px;font-size:6px;line-height:8.04px;color:#1d3d27;transform:scaleX(0.800);">108</span>
<span style="left:27.20px;top:127.72px;font-size:6px;line-height:8.04px;color:#1d3d27;transform:scaleX(0.800);">admin</span>
<span style="left:58.80px;top:127.72px;font-size:6px;line-height:8.04px;color:#1d3d27;transform:scaleX(0.800);">17/01/2010</span>
<span style="left:91.80px;top:127.72px;font-size:6px;line-height:8.04px;color:#1d3d27;transform:scaleX(0.800);">17/01/2010</span>
<svg style="left:7.800000000000001px;top:136.39999999999998px" width="5.6" height="5.6" viewBox="0 0 10 10"><path d="M1.5 0.8 L9.3 5 L1.5 9.2Z" fill="#22a82e"/></svg>
<span style="left:14.20px;top:135.68px;font-size:6px;line-height:8.04px;color:#1d3d27;transform:scaleX(0.800);">109</span>
<span style="left:27.20px;top:135.68px;font-size:6px;line-height:8.04px;color:#1d3d27;transform:scaleX(0.800);">admin</span>
<span style="left:58.80px;top:135.68px;font-size:6px;line-height:8.04px;color:#1d3d27;transform:scaleX(0.800);">17/01/2010</span>
<span style="left:91.80px;top:135.68px;font-size:6px;line-height:8.04px;color:#1d3d27;transform:scaleX(0.800);">17/01/2010</span>
<svg style="left:7.800000000000001px;top:144.35999999999999px" width="5.6" height="5.6" viewBox="0 0 10 10"><path d="M1.5 0.8 L9.3 5 L1.5 9.2Z" fill="#22a82e"/></svg>
<span style="left:14.20px;top:143.64px;font-size:6px;line-height:8.04px;color:#1d3d27;transform:scaleX(0.800);">110</span>
<span style="left:27.20px;top:143.64px;font-size:6px;line-height:8.04px;color:#1d3d27;transform:scaleX(0.800);">admin</span>
<span style="left:58.80px;top:143.64px;font-size:6px;line-height:8.04px;color:#1d3d27;transform:scaleX(0.800);">18/01/2010</span>
<span style="left:91.80px;top:143.64px;font-size:6px;line-height:8.04px;color:#1d3d27;transform:scaleX(0.800);">18/01/2010</span>
<span style="left:440.60px;top:143.64px;font-size:6px;line-height:8.04px;color:#1d3d27;transform:scaleX(0.900);">Full_Synchroni...</span>
<span style="left:482.20px;top:143.64px;font-size:6px;line-height:8.04px;color:#1d3d27;transform:scaleX(0.800);">Released</span>
<svg style="left:7.800000000000001px;top:152.32px" width="5.6" height="5.6" viewBox="0 0 10 10"><path d="M1.5 0.8 L9.3 5 L1.5 9.2Z" fill="#22a82e"/></svg>
<span style="left:14.20px;top:151.60px;font-size:6px;line-height:8.04px;color:#1d3d27;transform:scaleX(0.800);">111</span>
<span style="left:27.20px;top:151.60px;font-size:6px;line-height:8.04px;color:#1d3d27;transform:scaleX(0.800);">admin</span>
<span style="left:58.80px;top:151.60px;font-size:6px;line-height:8.04px;color:#1d3d27;transform:scaleX(0.800);">19/01/2010</span>
<span style="left:91.80px;top:151.60px;font-size:6px;line-height:8.04px;color:#1d3d27;transform:scaleX(0.800);">19/01/2010</span>
<span style="left:440.60px;top:151.60px;font-size:6px;line-height:8.04px;color:#1d3d27;transform:scaleX(0.800);">FullScreen_Video</span>
<span style="left:482.20px;top:151.60px;font-size:6px;line-height:8.04px;color:#1d3d27;transform:scaleX(0.800);">Released</span>
<svg style="left:7.800000000000001px;top:160.27999999999997px" width="5.6" height="5.6" viewBox="0 0 10 10"><path d="M1.5 0.8 L9.3 5 L1.5 9.2Z" fill="#22a82e"/></svg>
<span style="left:14.20px;top:159.56px;font-size:6px;line-height:8.04px;color:#1d3d27;transform:scaleX(0.800);">112</span>
<span style="left:27.20px;top:159.56px;font-size:6px;line-height:8.04px;color:#1d3d27;transform:scaleX(0.800);">admin</span>
<span style="left:58.80px;top:159.56px;font-size:6px;line-height:8.04px;color:#1d3d27;transform:scaleX(0.800);">21/01/2010</span>
<span style="left:91.80px;top:159.56px;font-size:6px;line-height:8.04px;color:#1d3d27;transform:scaleX(0.800);">21/01/2010</span>
<span style="left:440.60px;top:159.56px;font-size:6px;line-height:8.04px;color:#1d3d27;transform:scaleX(0.900);">Full_Synchroni...</span>
<span style="left:482.20px;top:159.56px;font-size:6px;line-height:8.04px;color:#1d3d27;transform:scaleX(0.800);">Released</span>
<svg style="left:7.599999999999998px;top:168.23999999999998px" width="5.6" height="5.6" viewBox="0 0 10 10"><path d="M1.3 1.3 L8.7 8.7 M8.7 1.3 L1.3 8.7" fill="none" stroke="#dc1118" stroke-width="2.7"/></svg>
<span style="left:14.20px;top:167.52px;font-size:6px;line-height:8.04px;color:#4a1f24;transform:scaleX(0.800);">113</span>
<span style="left:27.20px;top:167.52px;font-size:6px;line-height:8.04px;color:#4a1f24;transform:scaleX(0.800);">admin</span>
<span style="left:58.80px;top:167.52px;font-size:6px;line-height:8.04px;color:#4a1f24;transform:scaleX(0.800);">22/01/2010</span>
<span style="left:91.80px;top:167.52px;font-size:6px;line-height:8.04px;color:#4a1f24;transform:scaleX(0.800);">22/01/2010</span>
<span style="left:126.00px;top:167.52px;font-size:6px;line-height:8.04px;color:#4a1f24;transform:scaleX(0.800);">Ikea Amersfoort</span>
<span style="left:192.90px;top:167.52px;font-size:6px;line-height:8.04px;color:#4a1f24;transform:scaleX(0.800);">furniture, interior, ...</span>
<span style="left:440.60px;top:167.52px;font-size:6px;line-height:8.04px;color:#4a1f24;transform:scaleX(0.800);">FullScreen_Video</span>
<span style="left:482.20px;top:167.52px;font-size:6px;line-height:8.04px;color:#4a1f24;transform:scaleX(0.800);">Rejected</span>
<svg style="left:7.599999999999998px;top:176.2px" width="5.6" height="5.6" viewBox="0 0 10 10"><path d="M1.3 1.3 L8.7 8.7 M8.7 1.3 L1.3 8.7" fill="none" stroke="#dc1118" stroke-width="2.7"/></svg>
<span style="left:14.20px;top:175.48px;font-size:6px;line-height:8.04px;color:#4a1f24;transform:scaleX(0.800);">114</span>
<span style="left:27.20px;top:175.48px;font-size:6px;line-height:8.04px;color:#4a1f24;transform:scaleX(0.800);">admin</span>
<span style="left:58.80px;top:175.48px;font-size:6px;line-height:8.04px;color:#4a1f24;transform:scaleX(0.800);">22/01/2010</span>
<span style="left:91.80px;top:175.48px;font-size:6px;line-height:8.04px;color:#4a1f24;transform:scaleX(0.800);">22/01/2010</span>
<span style="left:126.00px;top:175.48px;font-size:6px;line-height:8.04px;color:#4a1f24;transform:scaleX(0.800);">Hipdoom</span>
<span style="left:192.90px;top:175.48px;font-size:6px;line-height:8.04px;color:#4a1f24;transform:scaleX(0.800);">ICT</span>
<span style="left:440.60px;top:175.48px;font-size:6px;line-height:8.04px;color:#4a1f24;transform:scaleX(0.900);">Full_Synchroni...</span>
<span style="left:482.20px;top:175.48px;font-size:6px;line-height:8.04px;color:#4a1f24;transform:scaleX(0.800);">Rejected</span>
<svg style="left:7.599999999999998px;top:184.16px" width="5.6" height="5.6" viewBox="0 0 10 10"><path d="M1.3 1.3 L8.7 8.7 M8.7 1.3 L1.3 8.7" fill="none" stroke="#dc1118" stroke-width="2.7"/></svg>
<span style="left:14.20px;top:183.44px;font-size:6px;line-height:8.04px;color:#4a1f24;transform:scaleX(0.800);">115</span>
<span style="left:27.20px;top:183.44px;font-size:6px;line-height:8.04px;color:#4a1f24;transform:scaleX(0.800);">admin</span>
<span style="left:58.80px;top:183.44px;font-size:6px;line-height:8.04px;color:#4a1f24;transform:scaleX(0.800);">22/01/2010</span>
<span style="left:91.80px;top:183.44px;font-size:6px;line-height:8.04px;color:#4a1f24;transform:scaleX(0.800);">22/01/2010</span>
<span style="left:126.00px;top:183.44px;font-size:6px;line-height:8.04px;color:#4a1f24;transform:scaleX(0.800);">Sony Ericsson</span>
<span style="left:192.90px;top:183.44px;font-size:6px;line-height:8.04px;color:#4a1f24;transform:scaleX(0.800);">mobile, telephony</span>
<span style="left:440.60px;top:183.44px;font-size:6px;line-height:8.04px;color:#4a1f24;transform:scaleX(0.800);">FullScreen_Image</span>
<span style="left:482.20px;top:183.44px;font-size:6px;line-height:8.04px;color:#4a1f24;transform:scaleX(0.800);">Rejected</span>
<svg style="left:7.800000000000001px;top:192.11999999999998px" width="5.6" height="5.6" viewBox="0 0 10 10"><path d="M1.5 0.8 L9.3 5 L1.5 9.2Z" fill="#22a82e"/></svg>
<span style="left:14.20px;top:191.40px;font-size:6px;line-height:8.04px;color:#1d3d27;transform:scaleX(0.800);">116</span>
<span style="left:27.20px;top:191.40px;font-size:6px;line-height:8.04px;color:#1d3d27;transform:scaleX(0.800);">admin</span>
<span style="left:58.80px;top:191.40px;font-size:6px;line-height:8.04px;color:#1d3d27;transform:scaleX(0.800);">22/01/2010</span>
<span style="left:91.80px;top:191.40px;font-size:6px;line-height:8.04px;color:#1d3d27;transform:scaleX(0.800);">22/01/2010</span>
<span style="left:126.00px;top:191.40px;font-size:6px;line-height:8.04px;color:#1d3d27;transform:scaleX(0.800);">dZine</span>
<span style="left:192.90px;top:191.40px;font-size:6px;line-height:8.04px;color:#1d3d27;transform:scaleX(0.800);">ICT, drinks</span>
<span style="left:356.90px;top:191.40px;font-size:6px;line-height:8.04px;color:#1d3d27;transform:scaleX(0.800);">60</span>
<span style="left:440.60px;top:191.40px;font-size:6px;line-height:8.04px;color:#1d3d27;transform:scaleX(0.900);">Full_Synchroni...</span>
<span style="left:482.20px;top:191.40px;font-size:6px;line-height:8.04px;color:#1d3d27;transform:scaleX(0.800);">Released</span>
<svg style="left:7.800000000000001px;top:200.07999999999998px" width="5.6" height="5.6" viewBox="0 0 10 10"><path d="M1.5 0.8 L9.3 5 L1.5 9.2Z" fill="#22a82e"/></svg>
<span style="left:14.20px;top:199.36px;font-size:6px;line-height:8.04px;color:#1d3d27;transform:scaleX(0.800);">117</span>
<span style="left:27.20px;top:199.36px;font-size:6px;line-height:8.04px;color:#1d3d27;transform:scaleX(0.800);">admin</span>
<span style="left:58.80px;top:199.36px;font-size:6px;line-height:8.04px;color:#1d3d27;transform:scaleX(0.800);">22/01/2010</span>
<span style="left:91.80px;top:199.36px;font-size:6px;line-height:8.04px;color:#1d3d27;transform:scaleX(0.800);">22/01/2010</span>
<span style="left:126.00px;top:199.36px;font-size:6px;line-height:8.04px;color:#1d3d27;transform:scaleX(0.800);">Nokia</span>
<span style="left:192.90px;top:199.36px;font-size:6px;line-height:8.04px;color:#1d3d27;transform:scaleX(0.800);">telephony, mobile</span>
<span style="left:238.40px;top:199.36px;font-size:6px;line-height:8.04px;color:#1d3d27;transform:scaleX(0.800);">nokia_DNA_deel.mpg, L1998.m...</span>
<span style="left:312.60px;top:199.36px;font-size:6px;line-height:8.04px;color:#1d3d27;transform:scaleX(0.800);">10</span>
<span style="left:356.90px;top:199.36px;font-size:6px;line-height:8.04px;color:#1d3d27;transform:scaleX(0.800);">60</span>
<span style="left:399.00px;top:199.36px;font-size:6px;line-height:8.04px;color:#1d3d27;transform:scaleX(0.800);">Test_package2</span>
<span style="left:440.60px;top:199.36px;font-size:6px;line-height:8.04px;color:#1d3d27;transform:scaleX(0.800);">FullScreen_Video</span>
<span style="left:482.20px;top:199.36px;font-size:6px;line-height:8.04px;color:#1d3d27;transform:scaleX(0.800);">Released</span>
<svg style="left:7.800000000000001px;top:208.04px" width="5.6" height="5.6" viewBox="0 0 10 10"><path d="M1.5 0.8 L9.3 5 L1.5 9.2Z" fill="#22a82e"/></svg>
<span style="left:14.20px;top:207.32px;font-size:6px;line-height:8.04px;color:#1d3d27;transform:scaleX(0.800);">118</span>
<span style="left:27.20px;top:207.32px;font-size:6px;line-height:8.04px;color:#1d3d27;transform:scaleX(0.800);">admin</span>
<span style="left:58.80px;top:207.32px;font-size:6px;line-height:8.04px;color:#1d3d27;transform:scaleX(0.800);">22/01/2010</span>
<span style="left:91.80px;top:207.32px;font-size:6px;line-height:8.04px;color:#1d3d27;transform:scaleX(0.800);">22/01/2010</span>
<span style="left:126.00px;top:207.32px;font-size:6px;line-height:8.04px;color:#1d3d27;transform:scaleX(0.800);">Coca Cola Enterprises</span>
<span style="left:192.90px;top:207.32px;font-size:6px;line-height:8.04px;color:#1d3d27;transform:scaleX(0.800);">drinks</span>
<span style="left:238.40px;top:207.32px;font-size:6px;line-height:8.04px;color:#1d3d27;transform:scaleX(0.800);">COCA.GIF, cocacola.jpg</span>
<span style="left:312.60px;top:207.32px;font-size:6px;line-height:8.04px;color:#1d3d27;transform:scaleX(0.800);">10</span>
<span style="left:356.90px;top:207.32px;font-size:6px;line-height:8.04px;color:#1d3d27;transform:scaleX(0.800);">60</span>
<span style="left:399.00px;top:207.32px;font-size:6px;line-height:8.04px;color:#1d3d27;transform:scaleX(0.800);">Test_package2</span>
<span style="left:440.60px;top:207.32px;font-size:6px;line-height:8.04px;color:#1d3d27;transform:scaleX(0.800);">FullScreen_Image</span>
<span style="left:482.20px;top:207.32px;font-size:6px;line-height:8.04px;color:#1d3d27;transform:scaleX(0.800);">Released</span>
<svg style="left:6.9999999999999964px;top:215.59999999999997px" width="6.6" height="6.6" viewBox="0 0 10 10"><circle cx="5" cy="5" r="4" fill="#fff" fill-opacity=".6" stroke="#666" stroke-width="1.1"/><path d="M5 2.6 V5.2 H7" fill="none" stroke="#666" stroke-width="1"/></svg>
<span style="left:14.20px;top:215.28px;font-size:6px;line-height:8.04px;color:#2a2a2a;transform:scaleX(0.800);">120</span>
<span style="left:27.20px;top:215.28px;font-size:6px;line-height:8.04px;color:#2a2a2a;transform:scaleX(0.800);">admin</span>
<span style="left:58.80px;top:215.28px;font-size:6px;line-height:8.04px;color:#2a2a2a;transform:scaleX(0.800);">26/02/2010</span>
<span style="left:91.80px;top:215.28px;font-size:6px;line-height:8.04px;color:#2a2a2a;transform:scaleX(0.800);">27/02/2010</span>
<span style="left:126.00px;top:215.28px;font-size:6px;line-height:8.04px;color:#2a2a2a;transform:scaleX(0.800);">Coca Cola Enterprises</span>
<span style="left:192.90px;top:215.28px;font-size:6px;line-height:8.04px;color:#2a2a2a;transform:scaleX(0.800);">drinks</span>
<span style="left:238.40px;top:215.28px;font-size:6px;line-height:8.04px;color:#2a2a2a;transform:scaleX(0.800);">COCA.GIF</span>
<span style="left:312.60px;top:215.28px;font-size:6px;line-height:8.04px;color:#2a2a2a;transform:scaleX(0.800);">10</span>
<span style="left:356.90px;top:215.28px;font-size:6px;line-height:8.04px;color:#2a2a2a;transform:scaleX(0.800);">60</span>
<span style="left:399.00px;top:215.28px;font-size:6px;line-height:8.04px;color:#2a2a2a;transform:scaleX(0.800);">Light Weight Ca...</span>
<span style="left:440.60px;top:215.28px;font-size:6px;line-height:8.04px;color:#2a2a2a;transform:scaleX(0.800);">FullScreen_Image</span>
<span style="left:482.20px;top:215.28px;font-size:6px;line-height:8.04px;color:#2a2a2a;transform:scaleX(0.800);">Optioned</span>
<span style="left:515.60px;top:215.28px;font-size:6px;line-height:8.04px;color:#2a2a2a;transform:scaleX(0.800);">test</span>
<svg style="left:7.800000000000001px;top:223.95999999999998px" width="5.6" height="5.6" viewBox="0 0 10 10"><path d="M1.5 0.8 L9.3 5 L1.5 9.2Z" fill="#22a82e"/></svg>
<span style="left:14.20px;top:223.24px;font-size:6px;line-height:8.04px;color:#1d3d27;transform:scaleX(0.800);">121</span>
<span style="left:27.20px;top:223.24px;font-size:6px;line-height:8.04px;color:#1d3d27;transform:scaleX(0.800);">admin</span>
<span style="left:58.80px;top:223.24px;font-size:6px;line-height:8.04px;color:#1d3d27;transform:scaleX(0.800);">27/02/2010</span>
<span style="left:91.80px;top:223.24px;font-size:6px;line-height:8.04px;color:#1d3d27;transform:scaleX(0.800);">28/02/2010</span>
<span style="left:126.00px;top:223.24px;font-size:6px;line-height:8.04px;color:#1d3d27;transform:scaleX(0.800);">Masterfoods</span>
<span style="left:192.90px;top:223.24px;font-size:6px;line-height:8.04px;color:#1d3d27;transform:scaleX(0.800);">drinks, food</span>
<span style="left:238.40px;top:223.24px;font-size:6px;line-height:8.04px;color:#1d3d27;transform:scaleX(0.800);">Tornado.mpg, COCACOLA.MP2</span>
<span style="left:312.60px;top:223.24px;font-size:6px;line-height:8.04px;color:#1d3d27;transform:scaleX(0.800);">10</span>
<span style="left:356.90px;top:223.24px;font-size:6px;line-height:8.04px;color:#1d3d27;transform:scaleX(0.800);">60</span>
<span style="left:399.00px;top:223.24px;font-size:6px;line-height:8.04px;color:#1d3d27;transform:scaleX(0.800);">Test_package</span>
<span style="left:440.60px;top:223.24px;font-size:6px;line-height:8.04px;color:#1d3d27;transform:scaleX(0.800);">FullScreen_Video</span>
<span style="left:482.20px;top:223.24px;font-size:6px;line-height:8.04px;color:#1d3d27;transform:scaleX(0.800);">Released</span>
<svg style="left:7.800000000000001px;top:231.92px" width="5.6" height="5.6" viewBox="0 0 10 10"><path d="M1.5 0.8 L9.3 5 L1.5 9.2Z" fill="#22a82e"/></svg>
<span style="left:14.20px;top:231.20px;font-size:6px;line-height:8.04px;color:#1d3d27;transform:scaleX(0.800);">122</span>
<span style="left:27.20px;top:231.20px;font-size:6px;line-height:8.04px;color:#1d3d27;transform:scaleX(0.800);">admin</span>
<span style="left:58.80px;top:231.20px;font-size:6px;line-height:8.04px;color:#1d3d27;transform:scaleX(0.800);">6/03/2010</span>
<span style="left:91.80px;top:231.20px;font-size:6px;line-height:8.04px;color:#1d3d27;transform:scaleX(0.800);">7/03/2010</span>
<span style="left:126.00px;top:231.20px;font-size:6px;line-height:8.04px;color:#1d3d27;transform:scaleX(0.800);">Coca Cola Enterprises</span>
<span style="left:192.90px;top:231.20px;font-size:6px;line-height:8.04px;color:#1d3d27;transform:scaleX(0.800);">drinks</span>
<span style="left:238.40px;top:231.20px;font-size:6px;line-height:8.04px;color:#1d3d27;transform:scaleX(0.800);">COCA.GIF</span>
<span style="left:312.60px;top:231.20px;font-size:6px;line-height:8.04px;color:#1d3d27;transform:scaleX(0.800);">10</span>
<span style="left:356.90px;top:231.20px;font-size:6px;line-height:8.04px;color:#1d3d27;transform:scaleX(0.800);">60</span>
<span style="left:399.00px;top:231.20px;font-size:6px;line-height:8.04px;color:#1d3d27;transform:scaleX(0.800);">Test_package</span>
<span style="left:440.60px;top:231.20px;font-size:6px;line-height:8.04px;color:#1d3d27;transform:scaleX(0.800);">FullScreen_Image</span>
<span style="left:482.20px;top:231.20px;font-size:6px;line-height:8.04px;color:#1d3d27;transform:scaleX(0.800);">Released</span>
<svg style="left:7.800000000000001px;top:239.88px" width="5.6" height="5.6" viewBox="0 0 10 10"><path d="M1.5 0.8 L9.3 5 L1.5 9.2Z" fill="#22a82e"/></svg>
<span style="left:14.20px;top:239.16px;font-size:6px;line-height:8.04px;color:#1d3d27;transform:scaleX(0.800);">123</span>
<span style="left:27.20px;top:239.16px;font-size:6px;line-height:8.04px;color:#1d3d27;transform:scaleX(0.800);">admin</span>
<span style="left:58.80px;top:239.16px;font-size:6px;line-height:8.04px;color:#1d3d27;transform:scaleX(0.800);">6/03/2010</span>
<span style="left:91.80px;top:239.16px;font-size:6px;line-height:8.04px;color:#1d3d27;transform:scaleX(0.800);">7/03/2010</span>
<span style="left:126.00px;top:239.16px;font-size:6px;line-height:8.04px;color:#1d3d27;transform:scaleX(0.800);">Masterfoods</span>
<span style="left:192.90px;top:239.16px;font-size:6px;line-height:8.04px;color:#1d3d27;transform:scaleX(0.800);">drinks, food</span>
<span style="left:238.40px;top:239.16px;font-size:6px;line-height:8.04px;color:#1d3d27;transform:scaleX(0.800);">Tornado.mpg, COCACOLA.MP2</span>
<span style="left:312.60px;top:239.16px;font-size:6px;line-height:8.04px;color:#1d3d27;transform:scaleX(0.800);">10</span>
<span style="left:356.90px;top:239.16px;font-size:6px;line-height:8.04px;color:#1d3d27;transform:scaleX(0.800);">60</span>
<span style="left:399.00px;top:239.16px;font-size:6px;line-height:8.04px;color:#1d3d27;transform:scaleX(0.800);">Test_package</span>
<span style="left:440.60px;top:239.16px;font-size:6px;line-height:8.04px;color:#1d3d27;transform:scaleX(0.800);">FullScreen_Video</span>
<span style="left:482.20px;top:239.16px;font-size:6px;line-height:8.04px;color:#1d3d27;transform:scaleX(0.800);">Released</span>
<svg style="left:7.800000000000001px;top:247.83999999999997px" width="5.6" height="5.6" viewBox="0 0 10 10"><path d="M1.5 0.8 L9.3 5 L1.5 9.2Z" fill="#22a82e"/></svg>
<span style="left:14.20px;top:247.12px;font-size:6px;line-height:8.04px;color:#1d3d27;transform:scaleX(0.800);">126</span>
<span style="left:27.20px;top:247.12px;font-size:6px;line-height:8.04px;color:#1d3d27;transform:scaleX(0.800);">admin</span>
<span style="left:58.80px;top:247.12px;font-size:6px;line-height:8.04px;color:#1d3d27;transform:scaleX(0.800);">13/03/2010</span>
<span style="left:91.80px;top:247.12px;font-size:6px;line-height:8.04px;color:#1d3d27;transform:scaleX(0.800);">14/03/2010</span>
<span style="left:126.00px;top:247.12px;font-size:6px;line-height:8.04px;color:#1d3d27;transform:scaleX(0.800);">Coca Cola Enterprises</span>
<span style="left:192.90px;top:247.12px;font-size:6px;line-height:8.04px;color:#1d3d27;transform:scaleX(0.800);">drinks</span>
<span style="left:238.40px;top:247.12px;font-size:6px;line-height:8.04px;color:#1d3d27;transform:scaleX(0.800);">travel.jpg, COCA.GIF</span>
<span style="left:312.60px;top:247.12px;font-size:6px;line-height:8.04px;color:#1d3d27;transform:scaleX(0.800);">10</span>
<span style="left:356.90px;top:247.12px;font-size:6px;line-height:8.04px;color:#1d3d27;transform:scaleX(0.800);">60</span>
<span style="left:399.00px;top:247.12px;font-size:6px;line-height:8.04px;color:#1d3d27;transform:scaleX(0.800);">Test_package</span>
<span style="left:440.60px;top:247.12px;font-size:6px;line-height:8.04px;color:#1d3d27;transform:scaleX(0.800);">FullScreen_Image</span>
<span style="left:482.20px;top:247.12px;font-size:6px;line-height:8.04px;color:#1d3d27;transform:scaleX(0.800);">Released</span>
</div>
<div style="left:709.80px;top:161.60px;width:8.20px;height:252.40px;background:#fafafa;"></div>
<div style="left:711.40px;top:169.20px;width:5.80px;height:227.40px;background:linear-gradient(90deg,#f3f3f3,#dddddd 50%,#d2d2d2);border:0.5px solid #a9a9a9;border-radius:1.5px;box-sizing:border-box;"></div>
<svg style="left:712.9px;top:164.6px" width="3" height="2" viewBox="0 0 8 5"><path d="M0 5 H8 L4 0Z" fill="#444"/></svg>
<svg style="left:712.9px;top:408.6px" width="3" height="2" viewBox="0 0 8 5"><path d="M0 0 H8 L4 5Z" fill="#444"/></svg>
<div style="left:713.20px;top:281.50px;width:2.40px;height:0.50px;background:#8a8a8a;"></div>
<div style="left:713.20px;top:282.60px;width:2.40px;height:0.50px;background:#8a8a8a;"></div>
<div style="left:713.20px;top:283.70px;width:2.40px;height:0.50px;background:#8a8a8a;"></div>
<div style="left:22.00px;top:421.80px;width:703.00px;height:0.60px;background:#d7d7d7;"></div>
<div style="left:22.00px;top:422.40px;width:703.00px;height:11.00px;background:#f1f1f1;"></div>
<span style="left:23.00px;top:423.98px;font-size:6px;line-height:8.04px;color:#2a2a2a;transform:scaleX(0.801);">Connected to IDS Server</span>
<div style="left:0;top:0;width:266px;height:449px;overflow:hidden">
<div style="left:126.20px;top:170.00px;width:203.80px;height:162.60px;background:rgba(255,255,255,0.5);backdrop-filter:blur(1.6px);border:1px solid rgba(20,60,30,.2);border-radius:3px;box-sizing:border-box;box-shadow:0 0.5px 3px 0.5px rgba(0,0,0,.25), inset 0 0 0 1px rgba(255,255,255,.35);"></div>
<div style="left:129.20px;top:181.40px;width:197.80px;height:148.00px;background:#f0f0f0;border:0.5px solid #b4b0b0;box-sizing:border-box;"></div>
<svg style="left:129.1px;top:172.7px" width="5.9" height="5.9" viewBox="0 0 14 14"><rect width="14" height="14" rx="1" fill="#6a4068"/><path d="M1 13 L5.5 6.5 L8 8.5 L12.5 1.5 L10.4 10.4 L7.6 8.8 L4 13Z" fill="#ffffff"/><path d="M8.4 13 L13 5.4 V13Z" fill="#dba0cc"/><rect x="1.2" y="5" width="3" height="3" fill="#e7a9d3"/></svg>
<span style="left:137.80px;top:171.68px;font-size:6px;line-height:8.04px;color:#1e1e1e;transform:scaleX(0.770);">Packages</span>
<div style="left:133.50px;top:191.00px;width:140.00px;height:133.00px;border:0.5px solid #e4e4e4;border-radius:2px;box-sizing:border-box;"></div>
<div style="left:136.50px;top:187.50px;width:24.00px;height:7.00px;background:#f0f0f0;"></div>
<span style="left:138.60px;top:186.98px;font-size:6px;line-height:8.04px;color:#2a2a2a;transform:scaleX(0.759);">Packages</span>
<div style="left:138.50px;top:200.00px;width:161.50px;height:101.40px;background:#fff;border:0.6px solid #dcdcdc;border-top-color:#767676;border-left-color:#8a8a8a;box-sizing:border-box;"></div>
<div style="left:139.10px;top:200.60px;width:161.50px;height:7.60px;background:linear-gradient(#ffffff,#f2f2f2);border-bottom:0.5px solid #d5d5d5;"></div>
<span style="left:142.00px;top:200.28px;font-size:6px;line-height:8.04px;color:#2a2a2a;transform:scaleX(0.812);">Name</span>
<span style="left:214.20px;top:200.28px;font-size:6px;line-height:8.04px;color:#2a2a2a;transform:scaleX(0.866);">Description</span>
<span style="left:152.80px;top:208.28px;font-size:6px;line-height:8.04px;color:#2a2a2a;transform:scaleX(0.838);">Heavy Weight Campaign</span>
<span style="left:213.00px;top:208.28px;font-size:6px;line-height:8.04px;color:#2a2a2a;transform:scaleX(0.742);">PACK 1</span>
<div style="left:139.10px;top:216.24px;width:161.50px;height:7.87px;background:#f6f6f6;"></div>
<span style="left:152.80px;top:216.15px;font-size:6px;line-height:8.04px;color:#2a2a2a;transform:scaleX(0.711);">K - all LED displays</span>
<span style="left:152.80px;top:224.02px;font-size:6px;line-height:8.04px;color:#2a2a2a;transform:scaleX(0.825);">Light Weight Campaign -...</span>
<span style="left:213.00px;top:224.02px;font-size:6px;line-height:8.04px;color:#2a2a2a;transform:scaleX(0.742);">10 second ad on 1 scre...</span>
<div style="left:139.10px;top:231.98px;width:161.50px;height:7.87px;background:#f6f6f6;"></div>
<span style="left:152.80px;top:231.89px;font-size:6px;line-height:8.04px;color:#2a2a2a;transform:scaleX(0.842);">Medium Weight Campai...</span>
<span style="left:213.00px;top:231.89px;font-size:6px;line-height:8.04px;color:#2a2a2a;transform:scaleX(0.739);">10 second ad per 90 mi...</span>
<div style="left:139.10px;top:239.84px;width:161.50px;height:7.87px;background:#4b4b4b;"></div>
<span style="left:152.80px;top:239.76px;font-size:6px;line-height:8.04px;color:#ffffff;transform:scaleX(0.842);">Medium Weight Campai...</span>
<span style="left:213.00px;top:239.76px;font-size:6px;line-height:8.04px;color:#ffffff;transform:scaleX(0.739);">10 second ad per 60 mi...</span>
<div style="left:139.10px;top:247.72px;width:161.50px;height:7.87px;background:#f6f6f6;"></div>
<span style="left:152.80px;top:247.63px;font-size:6px;line-height:8.04px;color:#2a2a2a;transform:scaleX(0.810);">Test_package</span>
<span style="left:213.00px;top:247.63px;font-size:6px;line-height:8.04px;color:#2a2a2a;transform:scaleX(0.825);">internal dZine</span>
<span style="left:152.80px;top:255.50px;font-size:6px;line-height:8.04px;color:#2a2a2a;transform:scaleX(0.805);">Test_package2</span>
<div style="left:139.10px;top:263.70px;width:161.50px;height:7.40px;background:#fdf9d8;"></div>
<svg style="left:145.7px;top:265px" width="4.4" height="4.4" viewBox="0 0 10 10"><circle cx="5" cy="5" r="3.6" fill="#f3e36b" stroke="#b5a436" stroke-width="1.6"/></svg>
<div style="left:139.10px;top:296.00px;width:161.50px;height:4.90px;background:#f0f0f0;"></div>
<div style="left:146.00px;top:296.40px;width:118.00px;height:4.10px;background:linear-gradient(#f3f3f3,#d6d6d6);border:0.5px solid #9a9a9a;border-radius:1.5px;box-sizing:border-box;"></div>
<svg style="left:141.6px;top:297.4px" width="1.8" height="2.4" viewBox="0 0 4 6"><path d="M4 0 L0 3 L4 6Z" fill="#444"/></svg>
<div style="left:227.50px;top:297.40px;width:0.50px;height:2.20px;background:#8a8a8a;"></div>
<div style="left:228.60px;top:297.40px;width:0.50px;height:2.20px;background:#8a8a8a;"></div>
<div style="left:229.70px;top:297.40px;width:0.50px;height:2.20px;background:#8a8a8a;"></div>
<div style="left:215.60px;top:312.00px;width:35.40px;height:10.20px;background:linear-gradient(#eef7fd,#d9edf9 48%,#c2e2f6 52%,#b9def5);border:0.6px solid #4f9acb;border-radius:1.6px;box-sizing:border-box;box-shadow:inset 0 0 0 0.8px #86d8f6;"></div>
<span style="left:227.20px;top:313.18px;font-size:6px;line-height:8.04px;color:#1e1e1e;transform:scaleX(0.834);">Close</span>
</div>
<div style="left:263.30px;top:81.10px;width:219.10px;height:278.30px;background:linear-gradient(rgba(255,255,255,.9) 0,rgba(255,255,255,.9) 12px,rgba(255,255,255,.55) 16px);backdrop-filter:blur(1.6px);border:0.8px solid rgba(0,0,0,.6);border-radius:3px;box-sizing:border-box;box-shadow:0 0.5px 4px 0.5px rgba(0,0,0,.38);"></div>
<div style="left:266.10px;top:93.10px;width:213.50px;height:263.50px;background:#f0f0f0;border:0.5px solid #9a9a9a;box-sizing:border-box;"></div>
<svg style="left:266.90000000000003px;top:83.69999999999999px" width="6.4" height="6.4" viewBox="0 0 14 14"><rect width="14" height="14" rx="1" fill="#6a4068"/><path d="M1 13 L5.5 6.5 L8 8.5 L12.5 1.5 L10.4 10.4 L7.6 8.8 L4 13Z" fill="#ffffff"/><path d="M8.4 13 L13 5.4 V13Z" fill="#dba0cc"/><rect x="1.2" y="5" width="3" height="3" fill="#e7a9d3"/></svg>
<span style="left:275.50px;top:82.88px;font-size:6px;line-height:8.04px;color:#1e1e1e;transform:scaleX(0.831);">Edit package 'Medium Weight Campaign - PACK 2'</span>
<div style="left:439.60px;top:82.00px;width:11.40px;height:6.80px;border:0.5px solid #cdcdcd;border-top:none;border-radius:0 0 1.5px 1.5px;background:linear-gradient(#ffffff,#f4f4f4);box-sizing:border-box;"></div>
<svg style="left:441.8px;top:83.4px" width="7" height="4.2" viewBox="0 0 18 10"><rect x="1" y="1" width="10" height="8" fill="none" stroke="#555" stroke-width="1.6"/><path d="M12 3 L17 1 L17 9 L12 7Z" fill="#666"/></svg>
<div style="left:460.50px;top:82.00px;width:18.80px;height:6.80px;border:0.5px solid #cdcdcd;border-top:none;border-radius:0 0 1.5px 1.5px;background:linear-gradient(#ffffff,#f4f4f4);box-sizing:border-box;"></div>
<svg style="left:467.8px;top:83.5px" width="4.8" height="4" viewBox="0 0 12 10"><path d="M1 1 L11 9 M11 1 L1 9" stroke="#555" stroke-width="2.6"/></svg>
<span style="left:272.40px;top:99.98px;font-size:6px;line-height:8.04px;color:#2a2a2a;transform:scaleX(0.821);">Name:</span>
<span style="left:272.40px;top:113.08px;font-size:6px;line-height:8.04px;color:#2a2a2a;transform:scaleX(0.821);">Description:</span>
<div style="left:301.40px;top:98.80px;width:91.00px;height:9.40px;background:#fff;"></div>
<div style="left:301.40px;top:112.60px;width:91.00px;height:9.20px;background:#fff;"></div>
<span style="left:303.50px;top:99.28px;font-size:6px;line-height:8.04px;color:#2a2a2a;transform:scaleX(0.806);">Medium Weight Campaign - PACK 2</span>
<span style="left:303.50px;top:112.88px;font-size:6px;line-height:8.04px;color:#2a2a2a;transform:scaleX(0.764);">10 second ad per 60 min on 7 screens</span>
<div style="left:273.00px;top:131.60px;width:198.00px;height:38.00px;border:0.5px solid #e4e4e4;border-radius:2px;box-sizing:border-box;"></div>
<div style="left:275.00px;top:128.00px;width:42.00px;height:7.00px;background:#f0f0f0;"></div>
<span style="left:276.00px;top:127.38px;font-size:6px;line-height:8.04px;color:#2a2a2a;transform:scaleX(0.818);">Edit package item</span>
<span style="left:276.80px;top:141.48px;font-size:6px;line-height:8.04px;color:#2a2a2a;transform:scaleX(0.801);">Location:</span>
<span style="left:276.80px;top:155.18px;font-size:6px;line-height:8.04px;color:#2a2a2a;transform:scaleX(0.766);">Slot:</span>
<div style="left:301.00px;top:141.00px;width:74.00px;height:8.60px;background:linear-gradient(#f3f3f3,#e3e3e3);border:0.5px solid #a9a9a9;border-radius:1px;box-sizing:border-box;"></div>
<span style="left:302.80px;top:141.38px;font-size:6px;line-height:8.04px;color:#222;transform:scaleX(0.794);">Retail area II</span>
<svg style="left:369.8px;top:144.4px" width="3" height="2" viewBox="0 0 8 5"><path d="M0 0 H8 L4 5Z" fill="#111"/></svg>
<div style="left:301.00px;top:154.70px;width:74.00px;height:8.60px;background:linear-gradient(#f3f3f3,#e3e3e3);border:0.5px solid #a9a9a9;border-radius:1px;box-sizing:border-box;"></div>
<span style="left:302.80px;top:155.08px;font-size:6px;line-height:8.04px;color:#222;transform:scaleX(0.808);">time slot 8.00am till 9.00pm</span>
<svg style="left:369.8px;top:158.1px" width="3" height="2" viewBox="0 0 8 5"><path d="M0 0 H8 L4 5Z" fill="#111"/></svg>
<div style="left:377.50px;top:140.90px;width:10.40px;height:8.80px;background:linear-gradient(#f6f6f6,#dfdfdf);border:0.5px solid #a9a9a9;border-radius:1.2px;box-sizing:border-box;"></div>
<svg style="left:379.5px;top:142.3px" width="6.4" height="6" viewBox="0 0 12 12"><path d="M2 10 L9.5 2.5" stroke="#e3a21a" stroke-width="2.6"/><path d="M1.4 10.8 L3.2 10 L2.2 9Z" fill="#444"/><path d="M9 3 L10.6 1.4" stroke="#c66" stroke-width="2.6"/></svg>
<div style="left:390.60px;top:140.90px;width:10.40px;height:8.80px;background:linear-gradient(#f6f6f6,#dfdfdf);border:0.5px solid #a9a9a9;border-radius:1.2px;box-sizing:border-box;"></div>
<svg style="left:393.6px;top:143.1px" width="4.4" height="4.4" viewBox="0 0 10 10"><path d="M5 1 V9 M1 5 H9" stroke="#9ab89a" stroke-width="2"/></svg>
<div style="left:377.50px;top:154.60px;width:10.40px;height:8.80px;background:linear-gradient(#f6f6f6,#dfdfdf);border:0.5px solid #a9a9a9;border-radius:1.2px;box-sizing:border-box;"></div>
<svg style="left:379.5px;top:156.0px" width="6.4" height="6" viewBox="0 0 12 12"><path d="M2 10 L9.5 2.5" stroke="#e3a21a" stroke-width="2.6"/><path d="M1.4 10.8 L3.2 10 L2.2 9Z" fill="#444"/><path d="M9 3 L10.6 1.4" stroke="#c66" stroke-width="2.6"/></svg>
<div style="left:390.60px;top:154.60px;width:10.40px;height:8.80px;background:linear-gradient(#f6f6f6,#dfdfdf);border:0.5px solid #a9a9a9;border-radius:1.2px;box-sizing:border-box;"></div>
<svg style="left:393.6px;top:156.79999999999998px" width="4.4" height="4.4" viewBox="0 0 10 10"><path d="M5 1 V9 M1 5 H9" stroke="#9ab89a" stroke-width="2"/></svg>
<div style="left:273.00px;top:180.20px;width:198.00px;height:27.00px;border:0.5px solid #e4e4e4;border-radius:2px;box-sizing:border-box;"></div>
<div style="left:275.00px;top:176.50px;width:37.00px;height:7.00px;background:#f0f0f0;"></div>
<span style="left:276.00px;top:175.98px;font-size:6px;line-height:8.04px;color:#2a2a2a;transform:scaleX(0.850);">Tag Limitations</span>
<span style="left:276.80px;top:192.18px;font-size:6px;line-height:8.04px;color:#2a2a2a;transform:scaleX(0.813);">Limited tags :</span>
<div style="left:311.00px;top:191.50px;width:69.00px;height:9.70px;background:linear-gradient(#f5f5f5,#e0e0e0);border:0.5px solid #9c9c9c;border-radius:1.4px;box-sizing:border-box;"></div>
<span style="left:332.80px;top:192.38px;font-size:6px;line-height:8.04px;color:#1e1e1e;transform:scaleX(0.825);">Select Tags</span>
<div style="left:273.00px;top:217.20px;width:198.00px;height:115.50px;border:0.5px solid #e4e4e4;border-radius:2px;box-sizing:border-box;"></div>
<div style="left:275.00px;top:213.50px;width:35.00px;height:7.00px;background:#f0f0f0;"></div>
<span style="left:276.00px;top:212.98px;font-size:6px;line-height:8.04px;color:#2a2a2a;transform:scaleX(0.813);">Package items</span>
<div style="left:278.00px;top:226.80px;width:188.60px;height:101.20px;background:#fff;border:0.6px solid #dcdcdc;border-top-color:#767676;border-left-color:#8a8a8a;box-sizing:border-box;"></div>
<div style="left:278.60px;top:227.40px;width:187.40px;height:7.40px;background:linear-gradient(#ffffff,#f2f2f2);border-bottom:0.5px solid #d5d5d5;"></div>
<span style="left:281.30px;top:227.18px;font-size:6px;line-height:8.04px;color:#2a2a2a;transform:scaleX(0.838);">Location</span>
<span style="left:385.80px;top:227.18px;font-size:6px;line-height:8.04px;color:#2a2a2a;transform:scaleX(0.774);">Slot</span>
<span style="left:292.50px;top:234.98px;font-size:6px;line-height:8.04px;color:#2a2a2a;transform:scaleX(0.788);">cinema area</span>
<span style="left:385.00px;top:234.98px;font-size:6px;line-height:8.04px;color:#2a2a2a;transform:scaleX(0.812);">time slot 8.00am till 12.00pm</span>
<div style="left:278.60px;top:242.92px;width:187.40px;height:7.90px;background:#f7f7f7;"></div>
<span style="left:292.50px;top:242.85px;font-size:6px;line-height:8.04px;color:#2a2a2a;transform:scaleX(0.788);">Retail area I</span>
<span style="left:385.00px;top:242.85px;font-size:6px;line-height:8.04px;color:#2a2a2a;transform:scaleX(0.815);">time slot 8.00am till 9.00pm</span>
<div style="left:278.60px;top:250.79px;width:187.40px;height:7.90px;background:#4b4b4b;"></div>
<span style="left:292.50px;top:250.72px;font-size:6px;line-height:8.04px;color:#fff;transform:scaleX(0.794);">Retail area II</span>
<span style="left:385.00px;top:250.72px;font-size:6px;line-height:8.04px;color:#fff;transform:scaleX(0.815);">time slot 8.00am till 9.00pm</span>
<div style="left:278.60px;top:258.70px;width:187.40px;height:8.00px;background:#fdf9d8;"></div>
<svg style="left:285.2px;top:260.5px" width="4.4" height="4.4" viewBox="0 0 10 10"><circle cx="5" cy="5" r="3.6" fill="#f3e36b" stroke="#b5a436" stroke-width="1.6"/></svg>
<div style="left:397.70px;top:341.50px;width:36.00px;height:10.20px;background:linear-gradient(#eef7fd,#d9edf9 48%,#c2e2f6 52%,#b9def5);border:0.6px solid #4f9acb;border-radius:1.6px;box-sizing:border-box;box-shadow:inset 0 0 0 0.8px #86d8f6;"></div>
<span style="left:412.50px;top:342.68px;font-size:6px;line-height:8.04px;color:#1e1e1e;transform:scaleX(0.761);">OK</span>
<div style="left:438.00px;top:341.50px;width:36.00px;height:10.20px;background:linear-gradient(#f5f5f5,#e0e0e0);border:0.5px solid #9c9c9c;border-radius:1.6px;box-sizing:border-box;"></div>
<span style="left:448.60px;top:342.68px;font-size:6px;line-height:8.04px;color:#1e1e1e;transform:scaleX(0.803);">Cancel</span>
<div style="left:449.00px;top:126.10px;width:209.50px;height:181.10px;background:linear-gradient(rgba(255,255,255,.9) 0,rgba(255,255,255,.9) 12px,rgba(255,255,255,.55) 16px);backdrop-filter:blur(1.6px);border:0.8px solid rgba(0,0,0,.6);border-radius:3px;box-sizing:border-box;box-shadow:0 0.5px 4px 0.5px rgba(0,0,0,.38);"></div>
<div style="left:451.80px;top:138.30px;width:203.90px;height:166.10px;background:#f0f0f0;border:0.5px solid #9a9a9a;box-sizing:border-box;"></div>
<svg style="left:452.6px;top:128.7px" width="6.4" height="6.4" viewBox="0 0 14 14"><rect width="14" height="14" rx="1" fill="#6a4068"/><path d="M1 13 L5.5 6.5 L8 8.5 L12.5 1.5 L10.4 10.4 L7.6 8.8 L4 13Z" fill="#ffffff"/><path d="M8.4 13 L13 5.4 V13Z" fill="#dba0cc"/><rect x="1.2" y="5" width="3" height="3" fill="#e7a9d3"/></svg>
<span style="left:461.20px;top:127.88px;font-size:6px;line-height:8.04px;color:#1e1e1e;transform:scaleX(0.821);">Select Tag Limitations</span>
<svg style="left:512px;top:127.6px" width="25" height="3" viewBox="0 0 50 6"><path d="M0 4 Q6 1 12 3.4 T25 2.6 T38 2 T50 1" fill="none" stroke="#f48aa0" stroke-width="1.3" opacity=".75"/></svg>
<div style="left:594.20px;top:126.70px;width:10.80px;height:7.00px;border:0.5px solid #cdcdcd;border-top:none;border-radius:0 0 1.5px 1.5px;background:linear-gradient(#ffffff,#f4f4f4);box-sizing:border-box;"></div>
<svg style="left:596.2px;top:128.2px" width="7" height="4.4" viewBox="0 0 18 10"><rect x="1" y="1" width="10" height="8" fill="none" stroke="#6a6a6a" stroke-width="1.6"/><path d="M12 3 L17 1 L17 9 L12 7Z" fill="#777"/></svg>
<div style="left:612.40px;top:126.70px;width:43.00px;height:7.00px;border:0.5px solid #cdcdcd;border-top:none;border-radius:0 0 1.5px 1.5px;background:linear-gradient(#ffffff,#f4f4f4);box-sizing:border-box;"></div>
<div style="left:624.40px;top:127.00px;width:0.50px;height:6.40px;background:#d0d0d0;"></div>
<div style="left:635.80px;top:127.00px;width:0.50px;height:6.40px;background:#d0d0d0;"></div>
<div style="left:615.80px;top:131.00px;width:5.60px;height:1.00px;background:#777;"></div>
<svg style="left:627.2px;top:127.9px" width="5.8" height="5" viewBox="0 0 12 10"><rect x="1" y="1" width="10" height="8" fill="none" stroke="#6a6a6a" stroke-width="1.7"/><rect x="3" y="3.6" width="6" height="2.8" fill="#8a8a8a"/></svg>
<svg style="left:642.6px;top:128px" width="5.6" height="4.6" viewBox="0 0 14 10"><path d="M1.5 1 L12.5 9 M12.5 1 L1.5 9" stroke="#5e5e5e" stroke-width="2.3"/></svg>
<svg style="left:650.2px;top:298.8px" width="4.6" height="4.6" viewBox="0 0 9 9"><path d="M8 1 L1 8 M8 4 L4 8 M8 7 L7 8" stroke="#bdbdbd" stroke-width="1.1"/><path d="M8.8 1.8 L1.8 8.8 M8.8 4.8 L4.8 8.8" stroke="#ffffff" stroke-width="0.8"/></svg>
<div style="left:460.90px;top:148.00px;width:83.00px;height:104.20px;background:#fff;border:0.6px solid #dcdcdc;border-top-color:#767676;border-left-color:#8a8a8a;box-sizing:border-box;"></div>
<div style="left:461.50px;top:148.60px;width:81.80px;height:7.60px;background:linear-gradient(#ffffff,#f2f2f2);border-bottom:0.5px solid #d5d5d5;"></div>
<span style="left:464.00px;top:148.58px;font-size:6px;line-height:8.04px;color:#2a2a2a;transform:scaleX(0.832);">Available Tags</span>
<span style="left:463.20px;top:156.98px;font-size:6px;line-height:8.04px;color:#2a2a2a;transform:scaleX(0.827);">advertising</span>
<div style="left:461.50px;top:165.03px;width:73.00px;height:8.05px;background:#f1f1f1;"></div>
<span style="left:463.20px;top:165.03px;font-size:6px;line-height:8.04px;color:#2a2a2a;transform:scaleX(0.846);">building</span>
<span style="left:463.20px;top:173.08px;font-size:6px;line-height:8.04px;color:#2a2a2a;transform:scaleX(0.750);">cars</span>
<div style="left:461.50px;top:181.13px;width:73.00px;height:8.05px;background:#f1f1f1;"></div>
<span style="left:463.20px;top:181.13px;font-size:6px;line-height:8.04px;color:#2a2a2a;transform:scaleX(0.870);">clothing</span>
<span style="left:463.20px;top:189.18px;font-size:6px;line-height:8.04px;color:#2a2a2a;transform:scaleX(0.866);">construction</span>
<div style="left:461.50px;top:197.23px;width:73.00px;height:8.05px;background:#f1f1f1;"></div>
<span style="left:463.20px;top:197.23px;font-size:6px;line-height:8.04px;color:#2a2a2a;transform:scaleX(0.856);">food</span>
<span style="left:463.20px;top:205.28px;font-size:6px;line-height:8.04px;color:#2a2a2a;transform:scaleX(0.886);">furniture</span>
<div style="left:461.50px;top:213.33px;width:73.00px;height:8.05px;background:#f1f1f1;"></div>
<span style="left:463.20px;top:213.33px;font-size:6px;line-height:8.04px;color:#2a2a2a;transform:scaleX(0.724);">ICT</span>
<span style="left:463.20px;top:221.38px;font-size:6px;line-height:8.04px;color:#2a2a2a;transform:scaleX(0.845);">interior</span>
<div style="left:461.50px;top:229.43px;width:73.00px;height:8.05px;background:#f1f1f1;"></div>
<span style="left:463.20px;top:229.43px;font-size:6px;line-height:8.04px;color:#2a2a2a;transform:scaleX(0.750);">IT</span>
<span style="left:463.20px;top:237.48px;font-size:6px;line-height:8.04px;color:#2a2a2a;transform:scaleX(0.849);">mobile</span>
<div style="left:461.50px;top:245.53px;width:73.00px;height:8.05px;background:#f1f1f1;"></div>
<span style="left:463.20px;top:245.53px;font-size:6px;line-height:8.04px;color:#2a2a2a;transform:scaleX(0.877);">party stuff</span>
<div style="left:535.60px;top:156.60px;width:7.80px;height:95.00px;background:#f4f4f4;"></div>
<div style="left:536.80px;top:163.80px;width:5.80px;height:63.00px;background:linear-gradient(90deg,#f5f5f5,#dcdcdc 50%,#cfcfcf);border:0.5px solid #979797;border-radius:1.5px;box-sizing:border-box;"></div>
<svg style="left:538.3px;top:159.3px" width="3" height="2" viewBox="0 0 8 5"><path d="M0 5 H8 L4 0Z" fill="#444"/></svg>
<svg style="left:538.3px;top:247.8px" width="3" height="2" viewBox="0 0 8 5"><path d="M0 0 H8 L4 5Z" fill="#444"/></svg>
<div style="left:538.50px;top:193.60px;width:2.40px;height:0.50px;background:#8a8a8a;"></div>
<div style="left:538.50px;top:194.70px;width:2.40px;height:0.50px;background:#8a8a8a;"></div>
<div style="left:538.50px;top:195.80px;width:2.40px;height:0.50px;background:#8a8a8a;"></div>
<div style="left:547.50px;top:173.20px;width:12.50px;height:11.20px;background:linear-gradient(#f6f6f6,#eaeaea 50%,#dcdcdc);border:0.5px solid #b0b0b0;border-radius:1.4px;box-sizing:border-box;"></div>
<span style="left:552.50px;top:174.91px;font-size:5.8px;line-height:7.77px;color:#444;transform:scaleX(0.768);">&gt;</span>
<div style="left:547.50px;top:188.40px;width:12.50px;height:9.60px;background:linear-gradient(#f6f6f6,#eaeaea 50%,#dcdcdc);border:0.5px solid #b0b0b0;border-radius:1.4px;box-sizing:border-box;"></div>
<span style="left:551.10px;top:189.31px;font-size:5.8px;line-height:7.77px;color:#444;transform:scaleX(0.797);">&gt;&gt;</span>
<div style="left:547.50px;top:204.00px;width:12.50px;height:9.60px;background:linear-gradient(#f6f6f6,#eaeaea 50%,#dcdcdc);border:0.5px solid #b0b0b0;border-radius:1.4px;box-sizing:border-box;"></div>
<span style="left:552.50px;top:204.91px;font-size:5.8px;line-height:7.77px;color:#444;transform:scaleX(0.768);">&lt;</span>
<div style="left:547.50px;top:218.00px;width:12.50px;height:9.60px;background:linear-gradient(#f6f6f6,#eaeaea 50%,#dcdcdc);border:0.5px solid #b0b0b0;border-radius:1.4px;box-sizing:border-box;"></div>
<span style="left:551.10px;top:218.91px;font-size:5.8px;line-height:7.77px;color:#444;transform:scaleX(0.797);">&lt;&lt;</span>
<div style="left:563.80px;top:148.00px;width:83.00px;height:104.20px;background:#fff;border:0.6px solid #dcdcdc;border-top-color:#767676;border-left-color:#8a8a8a;box-sizing:border-box;"></div>
<div style="left:564.40px;top:148.60px;width:81.80px;height:7.60px;background:linear-gradient(#ffffff,#f2f2f2);border-bottom:0.5px solid #d5d5d5;"></div>
<span style="left:566.50px;top:148.58px;font-size:6px;line-height:8.04px;color:#2a2a2a;transform:scaleX(0.798);">Selected Tags</span>
<div style="left:564.40px;top:156.80px;width:73.00px;height:8.00px;background:#4b4b4b;"></div>
<span style="left:566.00px;top:156.78px;font-size:6px;line-height:8.04px;color:#fff;transform:scaleX(0.781);">drinks</span>
<span style="left:464.60px;top:255.98px;font-size:6px;line-height:8.04px;color:#2a2a2a;transform:scaleX(0.803);">Allowed percentage for tag 'drinks' : 20%</span>
<div style="left:470.50px;top:268.80px;width:164.00px;height:1.10px;background:#e9e9e9;border:0.4px solid #cdcdcd;box-sizing:border-box;border-radius:0.6px;"></div>
<svg style="left:503.4px;top:266.6px" width="4.6" height="8.6" viewBox="0 0 9 17"><path d="M1 1 H8 V12 L4.5 16 L1 12Z" fill="#ececec" stroke="#8b8b8b" stroke-width="1.2"/></svg>
<div style="left:473.00px;top:276.20px;width:0.50px;height:1.30px;background:#dadada;"></div>
<div style="left:488.90px;top:276.20px;width:0.50px;height:1.30px;background:#dadada;"></div>
<div style="left:504.80px;top:276.20px;width:0.50px;height:1.30px;background:#dadada;"></div>
<div style="left:520.70px;top:276.20px;width:0.50px;height:1.30px;background:#dadada;"></div>
<div style="left:536.60px;top:276.20px;width:0.50px;height:1.30px;background:#dadada;"></div>
<div style="left:552.50px;top:276.20px;width:0.50px;height:1.30px;background:#dadada;"></div>
<div style="left:568.40px;top:276.20px;width:0.50px;height:1.30px;background:#dadada;"></div>
<div style="left:584.30px;top:276.20px;width:0.50px;height:1.30px;background:#dadada;"></div>
<div style="left:600.20px;top:276.20px;width:0.50px;height:1.30px;background:#dadada;"></div>
<div style="left:616.10px;top:276.20px;width:0.50px;height:1.30px;background:#dadada;"></div>
<div style="left:632.00px;top:276.20px;width:0.50px;height:1.30px;background:#dadada;"></div>
<div style="left:516.00px;top:285.50px;width:36.00px;height:10.20px;background:linear-gradient(#eef7fd,#d9edf9 48%,#c2e2f6 52%,#b9def5);border:0.6px solid #4f9acb;border-radius:1.6px;box-sizing:border-box;box-shadow:inset 0 0 0 0.8px #86d8f6;"></div>
<span style="left:530.80px;top:286.68px;font-size:6px;line-height:8.04px;color:#1e1e1e;transform:scaleX(0.761);">OK</span>
<div style="left:555.60px;top:285.50px;width:36.40px;height:10.20px;background:linear-gradient(#f5f5f5,#e0e0e0);border:0.5px solid #9c9c9c;border-radius:1.6px;box-sizing:border-box;"></div>
<span style="left:566.30px;top:286.68px;font-size:6px;line-height:8.04px;color:#1e1e1e;transform:scaleX(0.803);">Cancel</span>
</div></div>
</body></html>
